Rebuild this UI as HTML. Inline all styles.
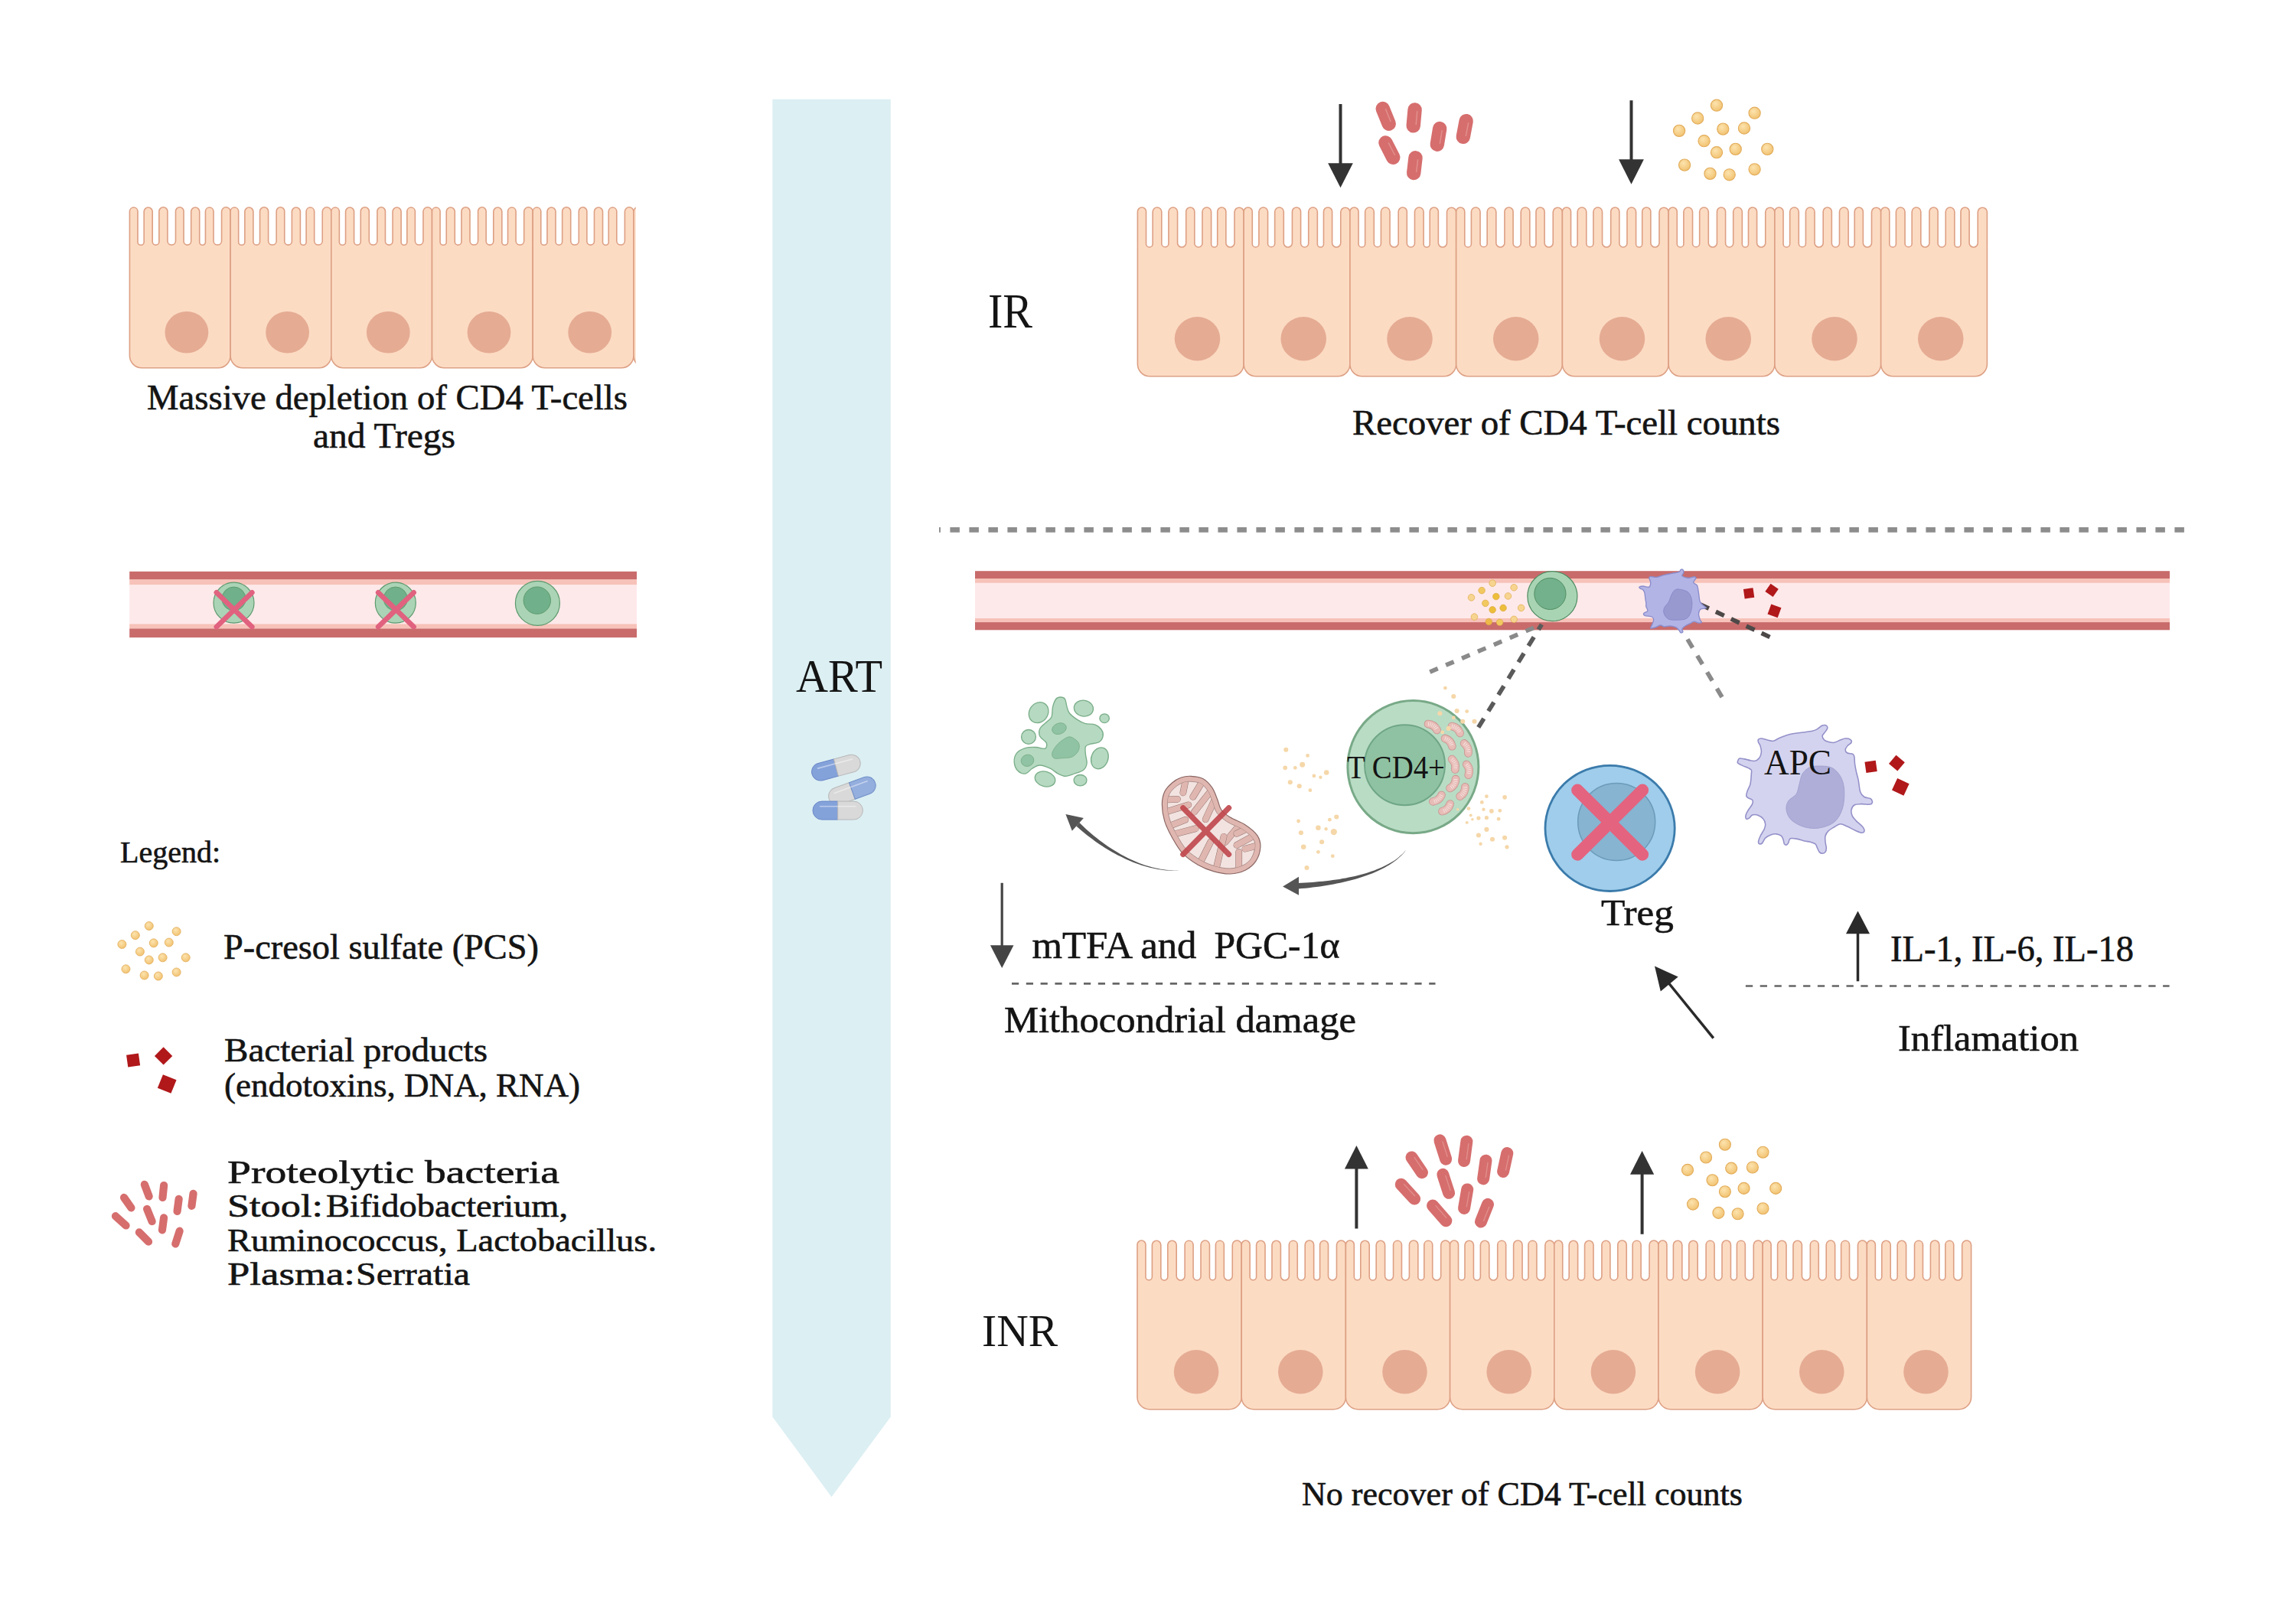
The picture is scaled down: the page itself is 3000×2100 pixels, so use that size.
<!DOCTYPE html>
<html><head><meta charset="utf-8"><title>ART diagram</title>
<style>html,body{margin:0;padding:0;background:#fff;width:3000px;height:2100px;overflow:hidden}svg{display:block}</style>
</head><body><svg width="3000" height="2100" viewBox="0 0 3000 2100"><rect width="3000" height="2100" fill="#FFFFFF"/><defs><radialGradient id="dotg" cx="0.4" cy="0.35" r="0.65"><stop offset="0" stop-color="#FCE3AE"/><stop offset="1" stop-color="#F2C372"/></radialGradient><clipPath id="clipL"><rect x="0" y="0" width="830.7" height="2100"/></clipPath></defs><polygon points="1009.3,129.8 1163.8,129.8 1163.8,1851.5 1086.5,1956.3 1009.3,1851.5" fill="#DCEFF3"/><g clip-path="url(#clipL)"><path d="M169.40,464.80L169.40,276.09A5.29,5.29 0 0 1 179.97,276.09L179.97,316.21A4.09,4.09 0 0 0 188.15,316.21L188.15,276.33A5.53,5.53 0 0 1 199.20,276.33L199.20,315.97A4.33,4.33 0 0 0 207.85,315.97L207.85,276.33A5.53,5.53 0 0 1 218.91,276.33L218.91,315.01A5.29,5.29 0 0 0 229.48,315.01L229.48,276.09A5.29,5.29 0 0 1 240.06,276.09L240.06,315.49A4.81,4.81 0 0 0 249.67,315.49L249.67,276.33A5.53,5.53 0 0 1 260.72,276.33L260.72,316.45A3.85,3.85 0 0 0 268.42,316.45L268.42,276.09A5.29,5.29 0 0 1 278.99,276.09L278.99,315.01A5.29,5.29 0 0 0 289.56,315.01L289.56,276.57A5.77,5.77 0 0 1 301.10,276.57L301.10,464.80A16,16 0 0 1 285.10,480.80L185.40,480.80A16,16 0 0 1 169.40,464.80Z" fill="#FCDBC3" stroke="#DDA084" stroke-width="1.6"/><ellipse cx="243.90" cy="434.30" rx="28.4" ry="27.3" fill="#E5AC93"/><path d="M301.10,464.80L301.10,276.09A5.29,5.29 0 0 1 311.67,276.09L311.67,316.21A4.09,4.09 0 0 0 319.85,316.21L319.85,276.33A5.53,5.53 0 0 1 330.90,276.33L330.90,315.97A4.33,4.33 0 0 0 339.55,315.97L339.55,276.33A5.53,5.53 0 0 1 350.61,276.33L350.61,315.01A5.29,5.29 0 0 0 361.18,315.01L361.18,276.09A5.29,5.29 0 0 1 371.76,276.09L371.76,315.49A4.81,4.81 0 0 0 381.37,315.49L381.37,276.33A5.53,5.53 0 0 1 392.42,276.33L392.42,316.45A3.85,3.85 0 0 0 400.12,316.45L400.12,276.09A5.29,5.29 0 0 1 410.69,276.09L410.69,315.01A5.29,5.29 0 0 0 421.26,315.01L421.26,276.57A5.77,5.77 0 0 1 432.80,276.57L432.80,464.80A16,16 0 0 1 416.80,480.80L317.10,480.80A16,16 0 0 1 301.10,464.80Z" fill="#FCDBC3" stroke="#DDA084" stroke-width="1.6"/><ellipse cx="375.60" cy="434.30" rx="28.4" ry="27.3" fill="#E5AC93"/><path d="M432.80,464.80L432.80,276.09A5.29,5.29 0 0 1 443.37,276.09L443.37,316.21A4.09,4.09 0 0 0 451.55,316.21L451.55,276.33A5.53,5.53 0 0 1 462.60,276.33L462.60,315.97A4.33,4.33 0 0 0 471.25,315.97L471.25,276.33A5.53,5.53 0 0 1 482.31,276.33L482.31,315.01A5.29,5.29 0 0 0 492.88,315.01L492.88,276.09A5.29,5.29 0 0 1 503.46,276.09L503.46,315.49A4.81,4.81 0 0 0 513.07,315.49L513.07,276.33A5.53,5.53 0 0 1 524.12,276.33L524.12,316.45A3.85,3.85 0 0 0 531.82,316.45L531.82,276.09A5.29,5.29 0 0 1 542.39,276.09L542.39,315.01A5.29,5.29 0 0 0 552.96,315.01L552.96,276.57A5.77,5.77 0 0 1 564.50,276.57L564.50,464.80A16,16 0 0 1 548.50,480.80L448.80,480.80A16,16 0 0 1 432.80,464.80Z" fill="#FCDBC3" stroke="#DDA084" stroke-width="1.6"/><ellipse cx="507.30" cy="434.30" rx="28.4" ry="27.3" fill="#E5AC93"/><path d="M564.50,464.80L564.50,276.09A5.29,5.29 0 0 1 575.07,276.09L575.07,316.21A4.09,4.09 0 0 0 583.25,316.21L583.25,276.33A5.53,5.53 0 0 1 594.30,276.33L594.30,315.97A4.33,4.33 0 0 0 602.95,315.97L602.95,276.33A5.53,5.53 0 0 1 614.01,276.33L614.01,315.01A5.29,5.29 0 0 0 624.58,315.01L624.58,276.09A5.29,5.29 0 0 1 635.16,276.09L635.16,315.49A4.81,4.81 0 0 0 644.77,315.49L644.77,276.33A5.53,5.53 0 0 1 655.82,276.33L655.82,316.45A3.85,3.85 0 0 0 663.52,316.45L663.52,276.09A5.29,5.29 0 0 1 674.09,276.09L674.09,315.01A5.29,5.29 0 0 0 684.66,315.01L684.66,276.57A5.77,5.77 0 0 1 696.20,276.57L696.20,464.80A16,16 0 0 1 680.20,480.80L580.50,480.80A16,16 0 0 1 564.50,464.80Z" fill="#FCDBC3" stroke="#DDA084" stroke-width="1.6"/><ellipse cx="639.00" cy="434.30" rx="28.4" ry="27.3" fill="#E5AC93"/><path d="M696.20,464.80L696.20,276.09A5.29,5.29 0 0 1 706.77,276.09L706.77,316.21A4.09,4.09 0 0 0 714.95,316.21L714.95,276.33A5.53,5.53 0 0 1 726.00,276.33L726.00,315.97A4.33,4.33 0 0 0 734.65,315.97L734.65,276.33A5.53,5.53 0 0 1 745.71,276.33L745.71,315.01A5.29,5.29 0 0 0 756.28,315.01L756.28,276.09A5.29,5.29 0 0 1 766.86,276.09L766.86,315.49A4.81,4.81 0 0 0 776.47,315.49L776.47,276.33A5.53,5.53 0 0 1 787.52,276.33L787.52,316.45A3.85,3.85 0 0 0 795.22,316.45L795.22,276.09A5.29,5.29 0 0 1 805.79,276.09L805.79,315.01A5.29,5.29 0 0 0 816.36,315.01L816.36,276.57A5.77,5.77 0 0 1 827.90,276.57L827.90,464.80A16,16 0 0 1 811.90,480.80L712.20,480.80A16,16 0 0 1 696.20,464.80Z" fill="#FCDBC3" stroke="#DDA084" stroke-width="1.6"/><ellipse cx="770.70" cy="434.30" rx="28.4" ry="27.3" fill="#E5AC93"/><path d="M827.90,464.80L827.90,276.09A5.29,5.29 0 0 1 838.47,276.09L838.47,316.21A4.09,4.09 0 0 0 846.65,316.21L846.65,276.33A5.53,5.53 0 0 1 857.70,276.33L857.70,315.97A4.33,4.33 0 0 0 866.35,315.97L866.35,276.33A5.53,5.53 0 0 1 877.41,276.33L877.41,315.01A5.29,5.29 0 0 0 887.98,315.01L887.98,276.09A5.29,5.29 0 0 1 898.56,276.09L898.56,315.49A4.81,4.81 0 0 0 908.17,315.49L908.17,276.33A5.53,5.53 0 0 1 919.22,276.33L919.22,316.45A3.85,3.85 0 0 0 926.92,316.45L926.92,276.09A5.29,5.29 0 0 1 937.49,276.09L937.49,315.01A5.29,5.29 0 0 0 948.06,315.01L948.06,276.57A5.77,5.77 0 0 1 959.60,276.57L959.60,464.80A16,16 0 0 1 943.60,480.80L843.90,480.80A16,16 0 0 1 827.90,464.80Z" fill="#FCDBC3" stroke="#DDA084" stroke-width="1.6"/><ellipse cx="902.40" cy="434.30" rx="28.4" ry="27.3" fill="#E5AC93"/></g><text x="192" y="534.9" font-size="47" font-family="Liberation Serif" fill="#141414" stroke="#141414" stroke-width="0.6" textLength="628" lengthAdjust="spacingAndGlyphs">Massive depletion of CD4 T-cells</text><text x="409" y="584.9" font-size="47" font-family="Liberation Serif" fill="#141414" stroke="#141414" stroke-width="0.6" textLength="186" lengthAdjust="spacingAndGlyphs">and Tregs</text><g><rect x="169.2" y="746.80" width="662.8" height="10.70" fill="#C96B6B"/><rect x="169.2" y="757.20" width="662.8" height="7.30" fill="#F7C2B9"/><rect x="169.2" y="764.20" width="662.8" height="51.50" fill="#FEE9EA"/><rect x="169.2" y="815.40" width="662.8" height="6.40" fill="#F7C2B9"/><rect x="169.2" y="821.50" width="662.8" height="11.60" fill="#C96B6B"/></g><circle cx="305.5" cy="787.7" r="26.5" fill="#AAD4B5" stroke="#5D9A6E" stroke-width="1.2"/><circle cx="305.5" cy="782.5" r="15.5" fill="#70B08A" stroke="#5D9A6E" stroke-width="0.96"/><circle cx="516.8" cy="787.7" r="26.5" fill="#AAD4B5" stroke="#5D9A6E" stroke-width="1.2"/><circle cx="516.8" cy="782.5" r="15.5" fill="#70B08A" stroke="#5D9A6E" stroke-width="0.96"/><circle cx="702.4" cy="788.3" r="29" fill="#AAD4B5" stroke="#5D9A6E" stroke-width="1.2"/><circle cx="701.8" cy="784.6" r="17.7" fill="#70B08A" stroke="#5D9A6E" stroke-width="0.96"/><g stroke="#E0627F" stroke-width="6.7" stroke-linecap="round" opacity="1"><line x1="282.9" y1="774.3" x2="329.3" y2="819.1"/><line x1="329.3" y1="774.3" x2="282.9" y2="819.1"/></g><g stroke="#E0627F" stroke-width="6.7" stroke-linecap="round" opacity="1"><line x1="494.2" y1="774.3" x2="540.6" y2="819.1"/><line x1="540.6" y1="774.3" x2="494.2" y2="819.1"/></g><text x="157" y="1127.4" font-size="39.7" font-family="Liberation Serif" fill="#141414" stroke="#141414" stroke-width="0.6" textLength="131" lengthAdjust="spacingAndGlyphs">Legend:</text><g><circle cx="194.75" cy="1210.00" r="5.5" fill="url(#dotg)" stroke="#E2AC5A" stroke-width="0.82"/><circle cx="230.62" cy="1217.23" r="5.5" fill="url(#dotg)" stroke="#E2AC5A" stroke-width="0.82"/><circle cx="176.82" cy="1222.15" r="5.5" fill="url(#dotg)" stroke="#E2AC5A" stroke-width="0.82"/><circle cx="159.40" cy="1234.00" r="5.5" fill="url(#dotg)" stroke="#E2AC5A" stroke-width="0.82"/><circle cx="200.76" cy="1232.34" r="5.5" fill="url(#dotg)" stroke="#E2AC5A" stroke-width="0.82"/><circle cx="220.78" cy="1231.55" r="5.5" fill="url(#dotg)" stroke="#E2AC5A" stroke-width="0.82"/><circle cx="182.90" cy="1243.62" r="5.5" fill="url(#dotg)" stroke="#E2AC5A" stroke-width="0.82"/><circle cx="194.75" cy="1254.46" r="5.5" fill="url(#dotg)" stroke="#E2AC5A" stroke-width="0.82"/><circle cx="212.61" cy="1251.36" r="5.5" fill="url(#dotg)" stroke="#E2AC5A" stroke-width="0.82"/><circle cx="242.69" cy="1251.36" r="5.5" fill="url(#dotg)" stroke="#E2AC5A" stroke-width="0.82"/><circle cx="164.46" cy="1266.32" r="5.5" fill="url(#dotg)" stroke="#E2AC5A" stroke-width="0.82"/><circle cx="188.61" cy="1274.49" r="5.5" fill="url(#dotg)" stroke="#E2AC5A" stroke-width="0.82"/><circle cx="206.83" cy="1275.50" r="5.5" fill="url(#dotg)" stroke="#E2AC5A" stroke-width="0.82"/><circle cx="230.62" cy="1270.44" r="5.5" fill="url(#dotg)" stroke="#E2AC5A" stroke-width="0.82"/></g><text x="292" y="1252.5" font-size="46.4" font-family="Liberation Serif" fill="#141414" stroke="#141414" stroke-width="0.6" textLength="412" lengthAdjust="spacingAndGlyphs">P-cresol sulfate (PCS)</text><rect x="166.10" y="1377.50" width="16" height="16" fill="#B0181A" transform="rotate(-8 174.10 1385.50)"/><rect x="205.35" y="1371.65" width="16.5" height="16.5" fill="#B0181A" transform="rotate(45 213.60 1379.90)"/><rect x="208.70" y="1407.00" width="19" height="19" fill="#B0181A" transform="rotate(22 218.20 1416.50)"/><text x="293" y="1387" font-size="45" font-family="Liberation Serif" fill="#141414" stroke="#141414" stroke-width="0.6" textLength="344" lengthAdjust="spacingAndGlyphs">Bacterial products</text><text x="293" y="1432.8" font-size="45" font-family="Liberation Serif" fill="#141414" stroke="#141414" stroke-width="0.6" textLength="465" lengthAdjust="spacingAndGlyphs">(endotoxins, DNA, RNA)</text><g><line x1="162.04" y1="1564.97" x2="171.46" y2="1578.33" stroke="#D66E6E" stroke-width="10.2" stroke-linecap="round"/><line x1="150.94" y1="1589.21" x2="164.56" y2="1601.49" stroke="#D66E6E" stroke-width="10.2" stroke-linecap="round"/><line x1="188.83" y1="1547.89" x2="194.67" y2="1563.41" stroke="#D66E6E" stroke-width="10.2" stroke-linecap="round"/><line x1="214.12" y1="1548.99" x2="212.48" y2="1565.01" stroke="#D66E6E" stroke-width="10.2" stroke-linecap="round"/><line x1="192.07" y1="1579.87" x2="198.63" y2="1596.13" stroke="#D66E6E" stroke-width="10.2" stroke-linecap="round"/><line x1="233.66" y1="1566.88" x2="231.54" y2="1582.92" stroke="#D66E6E" stroke-width="10.2" stroke-linecap="round"/><line x1="252.56" y1="1559.78" x2="250.44" y2="1575.82" stroke="#D66E6E" stroke-width="10.2" stroke-linecap="round"/><line x1="214.06" y1="1591.38" x2="211.94" y2="1607.42" stroke="#D66E6E" stroke-width="10.2" stroke-linecap="round"/><line x1="181.87" y1="1610.47" x2="194.03" y2="1622.63" stroke="#D66E6E" stroke-width="10.2" stroke-linecap="round"/><line x1="234.65" y1="1608.71" x2="229.25" y2="1625.49" stroke="#D66E6E" stroke-width="10.2" stroke-linecap="round"/></g><text x="297" y="1546.2" font-size="41.8" font-family="Liberation Serif" fill="#141414" stroke="#141414" stroke-width="0.6" textLength="434" lengthAdjust="spacingAndGlyphs">Proteolytic bacteria</text><text x="297" y="1590.3" font-size="41.8" font-family="Liberation Serif" fill="#141414" stroke="#141414" stroke-width="0.6" textLength="125" lengthAdjust="spacingAndGlyphs">Stool:</text><text x="426" y="1590.3" font-size="41.8" font-family="Liberation Serif" fill="#141414" stroke="#141414" stroke-width="0.6" textLength="316" lengthAdjust="spacingAndGlyphs">Bifidobacterium,</text><text x="297" y="1634.7" font-size="41.8" font-family="Liberation Serif" fill="#141414" stroke="#141414" stroke-width="0.6" textLength="561" lengthAdjust="spacingAndGlyphs">Ruminococcus, Lactobacillus.</text><text x="297" y="1678.8" font-size="41.8" font-family="Liberation Serif" fill="#141414" stroke="#141414" stroke-width="0.6" textLength="167" lengthAdjust="spacingAndGlyphs">Plasma:</text><text x="465" y="1678.8" font-size="41.8" font-family="Liberation Serif" fill="#141414" stroke="#141414" stroke-width="0.6" textLength="149" lengthAdjust="spacingAndGlyphs">Serratia</text><text x="1040" y="903.8" font-size="60.6" font-family="Liberation Serif" fill="#141414" textLength="113" lengthAdjust="spacingAndGlyphs">ART</text><g transform="translate(1113.4,1033.5) rotate(-20)"><path d="M0,-11.5 L-20.5,-11.5 A11.5,11.5 0 0 0 -20.5,11.5 L0,11.5 Z" fill="#D9D9D9" stroke="#B8B8B8" stroke-width="1"/><path d="M0,-11.5 L20.5,-11.5 A11.5,11.5 0 0 1 20.5,11.5 L0,11.5 Z" fill="#94AEDE" stroke="#7090C8" stroke-width="1"/><line x1="-22.799999999999997" y1="-5.175" x2="22.799999999999997" y2="-5.175" stroke="#FFFFFF" stroke-opacity="0.45" stroke-width="1.6" stroke-linecap="round"/></g><g transform="translate(1092.4,1003.1) rotate(-15)"><path d="M0,-11.5 L-21.0,-11.5 A11.5,11.5 0 0 0 -21.0,11.5 L0,11.5 Z" fill="#84A2DA" stroke="#6A88C8" stroke-width="1"/><path d="M0,-11.5 L21.0,-11.5 A11.5,11.5 0 0 1 21.0,11.5 L0,11.5 Z" fill="#D9D9D9" stroke="#B8B8B8" stroke-width="1"/><line x1="-23.299999999999997" y1="-5.175" x2="23.299999999999997" y2="-5.175" stroke="#FFFFFF" stroke-opacity="0.45" stroke-width="1.6" stroke-linecap="round"/></g><g transform="translate(1094.7,1059.1) rotate(0)"><path d="M0,-12.0 L-20.700000000000003,-12.0 A12.0,12.0 0 0 0 -20.700000000000003,12.0 L0,12.0 Z" fill="#84A2DA" stroke="#6A88C8" stroke-width="1"/><path d="M0,-12.0 L20.700000000000003,-12.0 A12.0,12.0 0 0 1 20.700000000000003,12.0 L0,12.0 Z" fill="#D9D9D9" stroke="#B8B8B8" stroke-width="1"/><line x1="-23.1" y1="-5.4" x2="23.1" y2="-5.4" stroke="#FFFFFF" stroke-opacity="0.45" stroke-width="1.6" stroke-linecap="round"/></g><line x1="1751.5" y1="136" x2="1751.5" y2="214.3" stroke="#333333" stroke-width="4"/><polygon points="1735.2,213.3 1767.8,213.3 1751.5,245.3" fill="#333333"/><line x1="2131.5" y1="131.2" x2="2131.5" y2="209.20000000000002" stroke="#333333" stroke-width="4"/><polygon points="2115.1,208.20000000000002 2147.9,208.20000000000002 2131.5,240.8" fill="#333333"/><g><line x1="1806.70" y1="142.00" x2="1814.70" y2="161.80" stroke="#D66E6E" stroke-width="18.4" stroke-linecap="round"/><line x1="1810.57" y1="142.74" x2="1816.97" y2="158.58" stroke="#E59A95" stroke-width="1.47" stroke-linecap="round" opacity="0.8"/><line x1="1848.60" y1="143.40" x2="1846.70" y2="164.40" stroke="#D66E6E" stroke-width="18.4" stroke-linecap="round"/><line x1="1851.71" y1="145.80" x2="1850.19" y2="162.60" stroke="#E59A95" stroke-width="1.47" stroke-linecap="round" opacity="0.8"/><line x1="1881.20" y1="168.00" x2="1877.80" y2="188.70" stroke="#D66E6E" stroke-width="18.4" stroke-linecap="round"/><line x1="1884.13" y1="170.61" x2="1881.41" y2="187.17" stroke="#E59A95" stroke-width="1.47" stroke-linecap="round" opacity="0.8"/><line x1="1915.70" y1="158.10" x2="1911.80" y2="178.80" stroke="#D66E6E" stroke-width="18.4" stroke-linecap="round"/><line x1="1918.56" y1="160.78" x2="1915.44" y2="177.34" stroke="#E59A95" stroke-width="1.47" stroke-linecap="round" opacity="0.8"/><line x1="1810.40" y1="186.40" x2="1820.30" y2="205.70" stroke="#D66E6E" stroke-width="18.4" stroke-linecap="round"/><line x1="1814.34" y1="186.82" x2="1822.26" y2="202.26" stroke="#E59A95" stroke-width="1.47" stroke-linecap="round" opacity="0.8"/><line x1="1849.50" y1="206.30" x2="1847.20" y2="226.10" stroke="#D66E6E" stroke-width="18.4" stroke-linecap="round"/><line x1="1852.56" y1="208.66" x2="1850.72" y2="224.50" stroke="#E59A95" stroke-width="1.47" stroke-linecap="round" opacity="0.8"/></g><g><circle cx="2243.00" cy="137.70" r="7.6" fill="url(#dotg)" stroke="#E2AC5A" stroke-width="1.14"/><circle cx="2292.60" cy="147.70" r="7.6" fill="url(#dotg)" stroke="#E2AC5A" stroke-width="1.14"/><circle cx="2218.20" cy="154.50" r="7.6" fill="url(#dotg)" stroke="#E2AC5A" stroke-width="1.14"/><circle cx="2194.10" cy="170.90" r="7.6" fill="url(#dotg)" stroke="#E2AC5A" stroke-width="1.14"/><circle cx="2251.30" cy="168.60" r="7.6" fill="url(#dotg)" stroke="#E2AC5A" stroke-width="1.14"/><circle cx="2279.00" cy="167.50" r="7.6" fill="url(#dotg)" stroke="#E2AC5A" stroke-width="1.14"/><circle cx="2226.60" cy="184.20" r="7.6" fill="url(#dotg)" stroke="#E2AC5A" stroke-width="1.14"/><circle cx="2243.00" cy="199.20" r="7.6" fill="url(#dotg)" stroke="#E2AC5A" stroke-width="1.14"/><circle cx="2267.70" cy="194.90" r="7.6" fill="url(#dotg)" stroke="#E2AC5A" stroke-width="1.14"/><circle cx="2309.30" cy="194.90" r="7.6" fill="url(#dotg)" stroke="#E2AC5A" stroke-width="1.14"/><circle cx="2201.10" cy="215.60" r="7.6" fill="url(#dotg)" stroke="#E2AC5A" stroke-width="1.14"/><circle cx="2234.50" cy="226.90" r="7.6" fill="url(#dotg)" stroke="#E2AC5A" stroke-width="1.14"/><circle cx="2259.70" cy="228.30" r="7.6" fill="url(#dotg)" stroke="#E2AC5A" stroke-width="1.14"/><circle cx="2292.60" cy="221.30" r="7.6" fill="url(#dotg)" stroke="#E2AC5A" stroke-width="1.14"/></g><text x="1291" y="427.7" font-size="63.8" font-family="Liberation Serif" fill="#141414" textLength="58" lengthAdjust="spacingAndGlyphs">IR</text><g><path d="M1486.40,475.80L1486.40,276.57A5.57,5.57 0 0 1 1497.54,276.57L1497.54,318.70A4.30,4.30 0 0 0 1506.15,318.70L1506.15,276.82A5.82,5.82 0 0 1 1517.80,276.82L1517.80,318.44A4.56,4.56 0 0 0 1526.91,318.44L1526.91,276.82A5.82,5.82 0 0 1 1538.56,276.82L1538.56,317.43A5.57,5.57 0 0 0 1549.70,317.43L1549.70,276.57A5.57,5.57 0 0 1 1560.84,276.57L1560.84,317.94A5.06,5.06 0 0 0 1570.97,317.94L1570.97,276.82A5.82,5.82 0 0 1 1582.61,276.82L1582.61,318.95A4.05,4.05 0 0 0 1590.72,318.95L1590.72,276.57A5.57,5.57 0 0 1 1601.86,276.57L1601.86,317.43A5.57,5.57 0 0 0 1613.00,317.43L1613.00,277.08A6.08,6.08 0 0 1 1625.15,277.08L1625.15,475.80A16,16 0 0 1 1609.15,491.80L1502.40,491.80A16,16 0 0 1 1486.40,475.80Z" fill="#FCDBC3" stroke="#DDA084" stroke-width="1.6"/><ellipse cx="1564.50" cy="442.80" rx="29.8" ry="28.7" fill="#E5AC93"/><path d="M1625.15,475.80L1625.15,276.57A5.57,5.57 0 0 1 1636.29,276.57L1636.29,318.70A4.30,4.30 0 0 0 1644.90,318.70L1644.90,276.82A5.82,5.82 0 0 1 1656.55,276.82L1656.55,318.44A4.56,4.56 0 0 0 1665.66,318.44L1665.66,276.82A5.82,5.82 0 0 1 1677.31,276.82L1677.31,317.43A5.57,5.57 0 0 0 1688.45,317.43L1688.45,276.57A5.57,5.57 0 0 1 1699.59,276.57L1699.59,317.94A5.06,5.06 0 0 0 1709.72,317.94L1709.72,276.82A5.82,5.82 0 0 1 1721.36,276.82L1721.36,318.95A4.05,4.05 0 0 0 1729.47,318.95L1729.47,276.57A5.57,5.57 0 0 1 1740.61,276.57L1740.61,317.43A5.57,5.57 0 0 0 1751.75,317.43L1751.75,277.08A6.08,6.08 0 0 1 1763.90,277.08L1763.90,475.80A16,16 0 0 1 1747.90,491.80L1641.15,491.80A16,16 0 0 1 1625.15,475.80Z" fill="#FCDBC3" stroke="#DDA084" stroke-width="1.6"/><ellipse cx="1703.25" cy="442.80" rx="29.8" ry="28.7" fill="#E5AC93"/><path d="M1763.90,475.80L1763.90,276.57A5.57,5.57 0 0 1 1775.04,276.57L1775.04,318.70A4.30,4.30 0 0 0 1783.65,318.70L1783.65,276.82A5.82,5.82 0 0 1 1795.30,276.82L1795.30,318.44A4.56,4.56 0 0 0 1804.41,318.44L1804.41,276.82A5.82,5.82 0 0 1 1816.06,276.82L1816.06,317.43A5.57,5.57 0 0 0 1827.20,317.43L1827.20,276.57A5.57,5.57 0 0 1 1838.34,276.57L1838.34,317.94A5.06,5.06 0 0 0 1848.47,317.94L1848.47,276.82A5.82,5.82 0 0 1 1860.11,276.82L1860.11,318.95A4.05,4.05 0 0 0 1868.22,318.95L1868.22,276.57A5.57,5.57 0 0 1 1879.36,276.57L1879.36,317.43A5.57,5.57 0 0 0 1890.50,317.43L1890.50,277.08A6.08,6.08 0 0 1 1902.65,277.08L1902.65,475.80A16,16 0 0 1 1886.65,491.80L1779.90,491.80A16,16 0 0 1 1763.90,475.80Z" fill="#FCDBC3" stroke="#DDA084" stroke-width="1.6"/><ellipse cx="1842.00" cy="442.80" rx="29.8" ry="28.7" fill="#E5AC93"/><path d="M1902.65,475.80L1902.65,276.57A5.57,5.57 0 0 1 1913.79,276.57L1913.79,318.70A4.30,4.30 0 0 0 1922.40,318.70L1922.40,276.82A5.82,5.82 0 0 1 1934.05,276.82L1934.05,318.44A4.56,4.56 0 0 0 1943.16,318.44L1943.16,276.82A5.82,5.82 0 0 1 1954.81,276.82L1954.81,317.43A5.57,5.57 0 0 0 1965.95,317.43L1965.95,276.57A5.57,5.57 0 0 1 1977.09,276.57L1977.09,317.94A5.06,5.06 0 0 0 1987.22,317.94L1987.22,276.82A5.82,5.82 0 0 1 1998.86,276.82L1998.86,318.95A4.05,4.05 0 0 0 2006.97,318.95L2006.97,276.57A5.57,5.57 0 0 1 2018.11,276.57L2018.11,317.43A5.57,5.57 0 0 0 2029.25,317.43L2029.25,277.08A6.08,6.08 0 0 1 2041.40,277.08L2041.40,475.80A16,16 0 0 1 2025.40,491.80L1918.65,491.80A16,16 0 0 1 1902.65,475.80Z" fill="#FCDBC3" stroke="#DDA084" stroke-width="1.6"/><ellipse cx="1980.75" cy="442.80" rx="29.8" ry="28.7" fill="#E5AC93"/><path d="M2041.40,475.80L2041.40,276.57A5.57,5.57 0 0 1 2052.54,276.57L2052.54,318.70A4.30,4.30 0 0 0 2061.15,318.70L2061.15,276.82A5.82,5.82 0 0 1 2072.80,276.82L2072.80,318.44A4.56,4.56 0 0 0 2081.91,318.44L2081.91,276.82A5.82,5.82 0 0 1 2093.56,276.82L2093.56,317.43A5.57,5.57 0 0 0 2104.70,317.43L2104.70,276.57A5.57,5.57 0 0 1 2115.84,276.57L2115.84,317.94A5.06,5.06 0 0 0 2125.97,317.94L2125.97,276.82A5.82,5.82 0 0 1 2137.61,276.82L2137.61,318.95A4.05,4.05 0 0 0 2145.72,318.95L2145.72,276.57A5.57,5.57 0 0 1 2156.86,276.57L2156.86,317.43A5.57,5.57 0 0 0 2168.00,317.43L2168.00,277.08A6.08,6.08 0 0 1 2180.15,277.08L2180.15,475.80A16,16 0 0 1 2164.15,491.80L2057.40,491.80A16,16 0 0 1 2041.40,475.80Z" fill="#FCDBC3" stroke="#DDA084" stroke-width="1.6"/><ellipse cx="2119.50" cy="442.80" rx="29.8" ry="28.7" fill="#E5AC93"/><path d="M2180.15,475.80L2180.15,276.57A5.57,5.57 0 0 1 2191.29,276.57L2191.29,318.70A4.30,4.30 0 0 0 2199.90,318.70L2199.90,276.82A5.82,5.82 0 0 1 2211.55,276.82L2211.55,318.44A4.56,4.56 0 0 0 2220.66,318.44L2220.66,276.82A5.82,5.82 0 0 1 2232.31,276.82L2232.31,317.43A5.57,5.57 0 0 0 2243.45,317.43L2243.45,276.57A5.57,5.57 0 0 1 2254.59,276.57L2254.59,317.94A5.06,5.06 0 0 0 2264.72,317.94L2264.72,276.82A5.82,5.82 0 0 1 2276.36,276.82L2276.36,318.95A4.05,4.05 0 0 0 2284.47,318.95L2284.47,276.57A5.57,5.57 0 0 1 2295.61,276.57L2295.61,317.43A5.57,5.57 0 0 0 2306.75,317.43L2306.75,277.08A6.08,6.08 0 0 1 2318.90,277.08L2318.90,475.80A16,16 0 0 1 2302.90,491.80L2196.15,491.80A16,16 0 0 1 2180.15,475.80Z" fill="#FCDBC3" stroke="#DDA084" stroke-width="1.6"/><ellipse cx="2258.25" cy="442.80" rx="29.8" ry="28.7" fill="#E5AC93"/><path d="M2318.90,475.80L2318.90,276.57A5.57,5.57 0 0 1 2330.04,276.57L2330.04,318.70A4.30,4.30 0 0 0 2338.65,318.70L2338.65,276.82A5.82,5.82 0 0 1 2350.30,276.82L2350.30,318.44A4.56,4.56 0 0 0 2359.41,318.44L2359.41,276.82A5.82,5.82 0 0 1 2371.06,276.82L2371.06,317.43A5.57,5.57 0 0 0 2382.20,317.43L2382.20,276.57A5.57,5.57 0 0 1 2393.34,276.57L2393.34,317.94A5.06,5.06 0 0 0 2403.47,317.94L2403.47,276.82A5.82,5.82 0 0 1 2415.11,276.82L2415.11,318.95A4.05,4.05 0 0 0 2423.22,318.95L2423.22,276.57A5.57,5.57 0 0 1 2434.36,276.57L2434.36,317.43A5.57,5.57 0 0 0 2445.50,317.43L2445.50,277.08A6.08,6.08 0 0 1 2457.65,277.08L2457.65,475.80A16,16 0 0 1 2441.65,491.80L2334.90,491.80A16,16 0 0 1 2318.90,475.80Z" fill="#FCDBC3" stroke="#DDA084" stroke-width="1.6"/><ellipse cx="2397.00" cy="442.80" rx="29.8" ry="28.7" fill="#E5AC93"/><path d="M2457.65,475.80L2457.65,276.57A5.57,5.57 0 0 1 2468.79,276.57L2468.79,318.70A4.30,4.30 0 0 0 2477.40,318.70L2477.40,276.82A5.82,5.82 0 0 1 2489.05,276.82L2489.05,318.44A4.56,4.56 0 0 0 2498.16,318.44L2498.16,276.82A5.82,5.82 0 0 1 2509.81,276.82L2509.81,317.43A5.57,5.57 0 0 0 2520.95,317.43L2520.95,276.57A5.57,5.57 0 0 1 2532.09,276.57L2532.09,317.94A5.06,5.06 0 0 0 2542.22,317.94L2542.22,276.82A5.82,5.82 0 0 1 2553.86,276.82L2553.86,318.95A4.05,4.05 0 0 0 2561.97,318.95L2561.97,276.57A5.57,5.57 0 0 1 2573.11,276.57L2573.11,317.43A5.57,5.57 0 0 0 2584.25,317.43L2584.25,277.08A6.08,6.08 0 0 1 2596.40,277.08L2596.40,475.80A16,16 0 0 1 2580.40,491.80L2473.65,491.80A16,16 0 0 1 2457.65,475.80Z" fill="#FCDBC3" stroke="#DDA084" stroke-width="1.6"/><ellipse cx="2535.75" cy="442.80" rx="29.8" ry="28.7" fill="#E5AC93"/></g><text x="1767" y="568.3" font-size="45.8" font-family="Liberation Serif" fill="#141414" stroke="#141414" stroke-width="0.6" textLength="559" lengthAdjust="spacingAndGlyphs">Recover of CD4 T-cell counts</text><line x1="1227" y1="692.3" x2="2854.1" y2="692.3" stroke="#8D8D8D" stroke-width="6.7" stroke-dasharray="12.5 12.5" stroke-dashoffset="10.6"/><g><rect x="1274" y="746.20" width="1561" height="10.10" fill="#C96B6B"/><rect x="1274" y="756.00" width="1561" height="6.00" fill="#F7C2B9"/><rect x="1274" y="761.70" width="1561" height="46.60" fill="#FEE9EA"/><rect x="1274" y="808.00" width="1561" height="5.40" fill="#F7C2B9"/><rect x="1274" y="813.10" width="1561" height="10.20" fill="#C96B6B"/></g><g><circle cx="1950.13" cy="762.10" r="4.3" fill="#F7D590" stroke="#D9A640" stroke-width="0.64"/><circle cx="1978.15" cy="767.75" r="4.3" fill="#F7D590" stroke="#D9A640" stroke-width="0.64"/><circle cx="1936.12" cy="771.59" r="4.3" fill="#F2C960" stroke="#D9A640" stroke-width="0.64"/><circle cx="1922.50" cy="780.86" r="4.3" fill="#F7D590" stroke="#D9A640" stroke-width="0.64"/><circle cx="1954.82" cy="779.56" r="4.3" fill="#EDBE3A" stroke="#D9A640" stroke-width="0.64"/><circle cx="1970.47" cy="778.94" r="4.3" fill="#F7D590" stroke="#D9A640" stroke-width="0.64"/><circle cx="1940.86" cy="788.37" r="4.3" fill="#F2C960" stroke="#D9A640" stroke-width="0.64"/><circle cx="1950.13" cy="796.85" r="4.3" fill="#EDBE3A" stroke="#D9A640" stroke-width="0.64"/><circle cx="1964.08" cy="794.42" r="4.3" fill="#EDBE3A" stroke="#D9A640" stroke-width="0.64"/><circle cx="1987.59" cy="794.42" r="4.3" fill="#F7D590" stroke="#D9A640" stroke-width="0.64"/><circle cx="1926.45" cy="806.11" r="4.3" fill="#F7D590" stroke="#D9A640" stroke-width="0.64"/><circle cx="1945.33" cy="812.50" r="4.3" fill="#EDB948" stroke="#D9A640" stroke-width="0.64"/><circle cx="1959.56" cy="813.29" r="4.3" fill="#F2C960" stroke="#D9A640" stroke-width="0.64"/><circle cx="1978.15" cy="809.33" r="4.3" fill="#F7D590" stroke="#D9A640" stroke-width="0.64"/></g><line x1="1868.3" y1="878.1" x2="2014.4" y2="815.9" stroke="#8A8A8A" stroke-width="5.7" stroke-dasharray="11.3 11.4"/><line x1="1931.7" y1="950.6" x2="2014.4" y2="815.9" stroke="#5A5A5A" stroke-width="5.7" stroke-dasharray="13.6 11.4"/><line x1="2250" y1="911" x2="2198.8" y2="825.1" stroke="#8A8A8A" stroke-width="5.7" stroke-dasharray="13 12"/><line x1="2222" y1="790" x2="2315.6" y2="834" stroke="#4D4848" stroke-width="5.7" stroke-dasharray="12 10"/><circle cx="2028.4" cy="779.2" r="32.5" fill="#A9D4B4" stroke="#4E8C60" stroke-width="1.2"/><circle cx="2025.4" cy="775.9" r="20.6" fill="#72B18B" stroke="#4E8C60" stroke-width="0.96"/><g transform="translate(1900,720) scale(0.19600)"><path d="M1235.0,240.0C1238.3,237.5 1249.2,235.0 1260.0,235.0C1270.8,235.0 1291.7,244.2 1300.0,240.0C1308.3,235.8 1310.0,220.0 1310.0,210.0C1310.0,200.0 1300.0,186.7 1300.0,180.0C1300.0,173.3 1301.7,170.8 1310.0,170.0C1318.3,169.2 1335.0,176.7 1350.0,175.0C1365.0,173.3 1383.3,164.2 1400.0,160.0C1416.7,155.8 1433.3,153.3 1450.0,150.0C1466.7,146.7 1490.0,144.2 1500.0,140.0C1510.0,135.8 1505.8,127.5 1510.0,125.0C1514.2,122.5 1521.7,121.7 1525.0,125.0C1528.3,128.3 1530.8,138.3 1530.0,145.0C1529.2,151.7 1515.0,159.2 1520.0,165.0C1525.0,170.8 1546.7,178.8 1560.0,180.0C1573.3,181.2 1591.3,171.7 1600.0,172.0C1608.7,172.3 1612.8,175.7 1612.0,182.0C1611.2,188.3 1593.7,202.0 1595.0,210.0C1596.3,218.0 1614.2,218.3 1620.0,230.0C1625.8,241.7 1626.7,261.7 1630.0,280.0C1633.3,298.3 1633.3,325.0 1640.0,340.0C1646.7,355.0 1663.3,363.3 1670.0,370.0C1676.7,376.7 1681.7,377.5 1680.0,380.0C1678.3,382.5 1666.7,383.3 1660.0,385.0C1653.3,386.7 1645.0,384.2 1640.0,390.0C1635.0,395.8 1630.0,408.3 1630.0,420.0C1630.0,431.7 1636.7,450.8 1640.0,460.0C1643.3,469.2 1651.7,471.7 1650.0,475.0C1648.3,478.3 1638.3,480.8 1630.0,480.0C1621.7,479.2 1608.3,470.0 1600.0,470.0C1591.7,470.0 1590.0,475.0 1580.0,480.0C1570.0,485.0 1550.0,493.3 1540.0,500.0C1530.0,506.7 1522.5,513.3 1520.0,520.0C1517.5,526.7 1526.7,535.8 1525.0,540.0C1523.3,544.2 1514.2,546.7 1510.0,545.0C1505.8,543.3 1505.0,535.8 1500.0,530.0C1495.0,524.2 1490.0,515.0 1480.0,510.0C1470.0,505.0 1453.3,500.8 1440.0,500.0C1426.7,499.2 1410.8,505.8 1400.0,505.0C1389.2,504.2 1385.0,494.2 1375.0,495.0C1365.0,495.8 1350.8,506.7 1340.0,510.0C1329.2,513.3 1313.3,518.3 1310.0,515.0C1306.7,511.7 1316.7,499.2 1320.0,490.0C1323.3,480.8 1330.0,468.3 1330.0,460.0C1330.0,451.7 1330.0,445.0 1320.0,440.0C1310.0,435.0 1279.2,434.2 1270.0,430.0C1260.8,425.8 1261.7,420.0 1265.0,415.0C1268.3,410.0 1287.5,407.5 1290.0,400.0C1292.5,392.5 1281.7,378.3 1280.0,370.0C1278.3,361.7 1280.8,358.3 1280.0,350.0C1279.2,341.7 1276.7,331.7 1275.0,320.0C1273.3,308.3 1272.5,290.0 1270.0,280.0C1267.5,270.0 1265.0,265.0 1260.0,260.0C1255.0,255.0 1244.2,253.3 1240.0,250.0C1235.8,246.7 1231.7,242.5 1235.0,240.0Z" fill="#B3B4E6" stroke="#8A8DCC" stroke-width="7"/><path d="M1500.0,255.0C1515.0,257.2 1545.8,262.5 1560.0,275.0C1574.2,287.5 1581.7,309.2 1585.0,330.0C1588.3,350.8 1585.8,380.0 1580.0,400.0C1574.2,420.0 1565.0,440.0 1550.0,450.0C1535.0,460.0 1510.0,459.2 1490.0,460.0C1470.0,460.8 1445.0,461.7 1430.0,455.0C1415.0,448.3 1405.0,432.5 1400.0,420.0C1395.0,407.5 1395.0,393.3 1400.0,380.0C1405.0,366.7 1421.7,355.0 1430.0,340.0C1438.3,325.0 1443.3,303.0 1450.0,290.0C1456.7,277.0 1461.7,267.8 1470.0,262.0C1478.3,256.2 1485.0,252.8 1500.0,255.0Z" fill="#9899CF" stroke="#8385C3" stroke-width="4"/></g><rect x="2278.75" y="768.95" width="12.7" height="12.7" fill="#B0181A" transform="rotate(-8 2285.10 775.30)"/><rect x="2308.85" y="765.15" width="12.5" height="12.5" fill="#B0181A" transform="rotate(35 2315.10 771.40)"/><rect x="2311.50" y="791.40" width="14" height="14" fill="#B0181A" transform="rotate(20 2318.50 798.40)"/><g transform="translate(1300,890) scale(0.16798)"><path d="M510.0,125.0C521.7,125.0 536.7,127.5 545.0,140.0C553.3,152.5 554.2,181.7 560.0,200.0C565.8,218.3 566.7,233.3 580.0,250.0C593.3,266.7 620.0,286.7 640.0,300.0C660.0,313.3 676.7,323.3 700.0,330.0C723.3,336.7 758.3,331.7 780.0,340.0C801.7,348.3 820.0,365.0 830.0,380.0C840.0,395.0 843.3,414.2 840.0,430.0C836.7,445.8 826.7,465.0 810.0,475.0C793.3,485.0 757.5,484.2 740.0,490.0C722.5,495.8 710.8,496.7 705.0,510.0C699.2,523.3 703.3,548.3 705.0,570.0C706.7,591.7 717.5,620.0 715.0,640.0C712.5,660.0 705.8,676.7 690.0,690.0C674.2,703.3 643.3,711.7 620.0,720.0C596.7,728.3 571.7,740.0 550.0,740.0C528.3,740.0 510.0,730.0 490.0,720.0C470.0,710.0 453.3,690.8 430.0,680.0C406.7,669.2 373.3,655.0 350.0,655.0C326.7,655.0 308.3,669.2 290.0,680.0C271.7,690.8 258.3,716.7 240.0,720.0C221.7,723.3 195.0,715.0 180.0,700.0C165.0,685.0 151.7,653.3 150.0,630.0C148.3,606.7 155.0,578.3 170.0,560.0C185.0,541.7 215.0,527.5 240.0,520.0C265.0,512.5 295.0,514.2 320.0,515.0C345.0,515.8 376.7,530.8 390.0,525.0C403.3,519.2 406.7,495.8 400.0,480.0C393.3,464.2 358.3,448.3 350.0,430.0C341.7,411.7 341.7,388.3 350.0,370.0C358.3,351.7 385.0,335.0 400.0,320.0C415.0,305.0 431.7,300.0 440.0,280.0C448.3,260.0 444.2,223.3 450.0,200.0C455.8,176.7 465.0,152.5 475.0,140.0C485.0,127.5 498.3,125.0 510.0,125.0Z" fill="#B6D9C1" stroke="#7AAE89" stroke-width="8"/><ellipse cx="340" cy="245" rx="72" ry="84" transform="rotate(35 340 245)" fill="#B6D9C1" stroke="#7AAE89" stroke-width="8"/><ellipse cx="690" cy="212" rx="75" ry="62" transform="rotate(10 690 212)" fill="#B6D9C1" stroke="#7AAE89" stroke-width="8"/><ellipse cx="852" cy="290" rx="37" ry="35" transform="rotate(0 852 290)" fill="#B6D9C1" stroke="#7AAE89" stroke-width="8"/><ellipse cx="262" cy="434" rx="56" ry="56" transform="rotate(0 262 434)" fill="#B6D9C1" stroke="#7AAE89" stroke-width="8"/><ellipse cx="815" cy="600" rx="65" ry="85" transform="rotate(20 815 600)" fill="#B6D9C1" stroke="#7AAE89" stroke-width="8"/><ellipse cx="390" cy="762" rx="80" ry="58" transform="rotate(15 390 762)" fill="#B6D9C1" stroke="#7AAE89" stroke-width="8"/><ellipse cx="664" cy="772" rx="50" ry="43" transform="rotate(0 664 772)" fill="#B6D9C1" stroke="#7AAE89" stroke-width="8"/><ellipse cx="500" cy="370" rx="57" ry="42" transform="rotate(-20 500 370)" fill="#8FC3A3" stroke="#7AAE89" stroke-width="5"/><path d="M590.0,435.0C608.3,440.0 640.0,462.5 650.0,480.0C660.0,497.5 658.3,521.7 650.0,540.0C641.7,558.3 621.7,580.0 600.0,590.0C578.3,600.0 543.3,598.3 520.0,600.0C496.7,601.7 472.5,606.7 460.0,600.0C447.5,593.3 441.7,576.7 445.0,560.0C448.3,543.3 464.2,518.3 480.0,500.0C495.8,481.7 521.7,460.8 540.0,450.0C558.3,439.2 571.7,430.0 590.0,435.0Z" fill="#8FC3A3" stroke="#7AAE89" stroke-width="5"/><ellipse cx="253" cy="618" rx="50" ry="45" transform="rotate(-20 253 618)" fill="#8FC3A3" stroke="#7AAE89" stroke-width="5"/></g><defs><clipPath id="mitoclip"><path d="M1522.5,781.9C1545.2,783.1 1577.7,784.9 1599.9,796.9C1622.0,808.8 1640.2,830.6 1655.4,853.8C1670.6,877.0 1679.4,907.6 1691.2,936.0C1702.9,964.4 1706.4,997.8 1725.8,1024.4C1745.2,1051.0 1774.1,1073.8 1807.6,1095.5C1841.1,1117.3 1893.8,1133.6 1926.7,1154.9C1959.6,1176.3 1989.2,1201.4 2005.2,1223.5C2021.3,1245.7 2024.8,1262.3 2023.1,1287.9C2021.3,1313.5 2009.9,1353.3 1994.6,1377.4C1979.3,1401.5 1958.9,1419.0 1931.2,1432.4C1903.5,1445.9 1865.0,1456.8 1828.3,1458.0C1791.7,1459.2 1749.2,1450.3 1711.3,1439.6C1673.5,1428.8 1638.0,1415.1 1601.2,1393.7C1564.3,1372.3 1521.2,1343.4 1490.4,1311.0C1459.7,1278.7 1438.4,1238.4 1416.6,1199.5C1394.9,1160.6 1372.6,1117.6 1360.1,1077.6C1347.7,1037.7 1342.4,993.3 1342.0,960.0C1341.6,926.7 1347.1,900.9 1358.0,877.9C1368.9,854.9 1389.5,836.8 1407.1,822.1C1424.7,807.4 1444.5,796.4 1463.7,789.7C1482.9,783.0 1499.8,780.7 1522.5,781.9Z"/></clipPath></defs><g transform="translate(1300,890) scale(0.16798)"><path d="M1525.0,740.0C1553.3,741.7 1592.5,745.0 1620.0,760.0C1647.5,775.0 1671.7,803.3 1690.0,830.0C1708.3,856.7 1718.3,891.7 1730.0,920.0C1741.7,948.3 1743.3,976.7 1760.0,1000.0C1776.7,1023.3 1798.3,1040.0 1830.0,1060.0C1861.7,1080.0 1915.0,1096.7 1950.0,1120.0C1985.0,1143.3 2020.8,1171.7 2040.0,1200.0C2059.2,1228.3 2066.7,1256.7 2065.0,1290.0C2063.3,1323.3 2049.2,1370.0 2030.0,1400.0C2010.8,1430.0 1983.3,1453.3 1950.0,1470.0C1916.7,1486.7 1871.7,1498.3 1830.0,1500.0C1788.3,1501.7 1741.7,1491.7 1700.0,1480.0C1658.3,1468.3 1620.0,1453.3 1580.0,1430.0C1540.0,1406.7 1493.3,1375.0 1460.0,1340.0C1426.7,1305.0 1403.3,1261.7 1380.0,1220.0C1356.7,1178.3 1333.3,1133.3 1320.0,1090.0C1306.7,1046.7 1300.0,998.3 1300.0,960.0C1300.0,921.7 1306.7,888.3 1320.0,860.0C1333.3,831.7 1358.3,808.3 1380.0,790.0C1401.7,771.7 1425.8,758.3 1450.0,750.0C1474.2,741.7 1496.7,738.3 1525.0,740.0Z" fill="#E0B7B0" stroke="#8A6663" stroke-width="7"/><path d="M1522.5,781.9C1545.2,783.1 1577.7,784.9 1599.9,796.9C1622.0,808.8 1640.2,830.6 1655.4,853.8C1670.6,877.0 1679.4,907.6 1691.2,936.0C1702.9,964.4 1706.4,997.8 1725.8,1024.4C1745.2,1051.0 1774.1,1073.8 1807.6,1095.5C1841.1,1117.3 1893.8,1133.6 1926.7,1154.9C1959.6,1176.3 1989.2,1201.4 2005.2,1223.5C2021.3,1245.7 2024.8,1262.3 2023.1,1287.9C2021.3,1313.5 2009.9,1353.3 1994.6,1377.4C1979.3,1401.5 1958.9,1419.0 1931.2,1432.4C1903.5,1445.9 1865.0,1456.8 1828.3,1458.0C1791.7,1459.2 1749.2,1450.3 1711.3,1439.6C1673.5,1428.8 1638.0,1415.1 1601.2,1393.7C1564.3,1372.3 1521.2,1343.4 1490.4,1311.0C1459.7,1278.7 1438.4,1238.4 1416.6,1199.5C1394.9,1160.6 1372.6,1117.6 1360.1,1077.6C1347.7,1037.7 1342.4,993.3 1342.0,960.0C1341.6,926.7 1347.1,900.9 1358.0,877.9C1368.9,854.9 1389.5,836.8 1407.1,822.1C1424.7,807.4 1444.5,796.4 1463.7,789.7C1482.9,783.0 1499.8,780.7 1522.5,781.9Z" fill="#F2E3E0" stroke="#927370" stroke-width="4"/><g clip-path="url(#mitoclip)"><line x1="1308.1" y1="923.5" x2="1419.2" y2="918.8" stroke="#927370" stroke-width="52" stroke-linecap="round"/><line x1="1308.1" y1="923.5" x2="1419.2" y2="918.8" stroke="#E0B7B0" stroke-width="46" stroke-linecap="round"/><line x1="1489.3" y1="740.4" x2="1463.6" y2="868.5" stroke="#927370" stroke-width="52" stroke-linecap="round"/><line x1="1489.3" y1="740.4" x2="1463.6" y2="868.5" stroke="#E0B7B0" stroke-width="46" stroke-linecap="round"/><line x1="1620.6" y1="769.1" x2="1540.6" y2="901.1" stroke="#927370" stroke-width="52" stroke-linecap="round"/><line x1="1620.6" y1="769.1" x2="1540.6" y2="901.1" stroke="#E0B7B0" stroke-width="46" stroke-linecap="round"/><line x1="1315.8" y1="1022.7" x2="1505.1" y2="963.3" stroke="#927370" stroke-width="52" stroke-linecap="round"/><line x1="1315.8" y1="1022.7" x2="1505.1" y2="963.3" stroke="#E0B7B0" stroke-width="46" stroke-linecap="round"/><line x1="1683.9" y1="848.9" x2="1549.5" y2="1019.6" stroke="#927370" stroke-width="52" stroke-linecap="round"/><line x1="1683.9" y1="848.9" x2="1549.5" y2="1019.6" stroke="#E0B7B0" stroke-width="46" stroke-linecap="round"/><line x1="1331.6" y1="1138.0" x2="1481.4" y2="1078.9" stroke="#927370" stroke-width="52" stroke-linecap="round"/><line x1="1331.6" y1="1138.0" x2="1481.4" y2="1078.9" stroke="#E0B7B0" stroke-width="46" stroke-linecap="round"/><line x1="1705.5" y1="930.0" x2="1638.4" y2="1075.9" stroke="#927370" stroke-width="52" stroke-linecap="round"/><line x1="1705.5" y1="930.0" x2="1638.4" y2="1075.9" stroke="#E0B7B0" stroke-width="46" stroke-linecap="round"/><line x1="1365.6" y1="1198.7" x2="1561.4" y2="1147.0" stroke="#927370" stroke-width="52" stroke-linecap="round"/><line x1="1365.6" y1="1198.7" x2="1561.4" y2="1147.0" stroke="#E0B7B0" stroke-width="46" stroke-linecap="round"/><line x1="1927.0" y1="1090.5" x2="1790.0" y2="1255.0" stroke="#927370" stroke-width="52" stroke-linecap="round"/><line x1="1927.0" y1="1090.5" x2="1790.0" y2="1255.0" stroke="#E0B7B0" stroke-width="46" stroke-linecap="round"/><line x1="1994.7" y1="1132.6" x2="1881.0" y2="1186.4" stroke="#927370" stroke-width="52" stroke-linecap="round"/><line x1="1994.7" y1="1132.6" x2="1881.0" y2="1186.4" stroke="#E0B7B0" stroke-width="46" stroke-linecap="round"/><line x1="2050.6" y1="1183.5" x2="1881.0" y2="1276.1" stroke="#927370" stroke-width="52" stroke-linecap="round"/><line x1="2050.6" y1="1183.5" x2="1881.0" y2="1276.1" stroke="#E0B7B0" stroke-width="46" stroke-linecap="round"/><line x1="2062.4" y1="1274.0" x2="1946.2" y2="1304.6" stroke="#927370" stroke-width="52" stroke-linecap="round"/><line x1="2062.4" y1="1274.0" x2="1946.2" y2="1304.6" stroke="#E0B7B0" stroke-width="46" stroke-linecap="round"/><line x1="1573.8" y1="1458.6" x2="1677.3" y2="1251.6" stroke="#927370" stroke-width="52" stroke-linecap="round"/><line x1="1573.8" y1="1458.6" x2="1677.3" y2="1251.6" stroke="#E0B7B0" stroke-width="46" stroke-linecap="round"/><line x1="1712.9" y1="1494.3" x2="1780.0" y2="1210.0" stroke="#927370" stroke-width="52" stroke-linecap="round"/><line x1="1712.9" y1="1494.3" x2="1780.0" y2="1210.0" stroke="#E0B7B0" stroke-width="46" stroke-linecap="round"/><line x1="1897.3" y1="1475.0" x2="1897.3" y2="1329.0" stroke="#927370" stroke-width="52" stroke-linecap="round"/><line x1="1897.3" y1="1475.0" x2="1897.3" y2="1329.0" stroke="#E0B7B0" stroke-width="46" stroke-linecap="round"/></g></g><g stroke="#C0464C" stroke-width="7.2" stroke-linecap="round" opacity="0.9"><line x1="1545.8" y1="1055.7" x2="1605.6" y2="1116.5"/><line x1="1605.6" y1="1055.7" x2="1545.8" y2="1116.5"/></g><path d="M1392.4,1063.9 L1415.9,1068.9 L1400.8,1085.7 Z" fill="#555555"/><polygon points="1406.3,1079.5 1409.1,1082.1 1412.0,1084.6 1415.0,1087.1 1418.0,1089.5 1421.1,1091.9 1424.2,1094.3 1427.3,1096.6 1430.4,1098.9 1433.6,1101.2 1436.9,1103.4 1440.1,1105.6 1443.4,1107.7 1446.7,1109.7 1450.1,1111.7 1453.5,1113.7 1456.8,1115.6 1460.3,1117.4 1463.7,1119.1 1467.2,1120.8 1470.6,1122.5 1474.1,1124.0 1477.6,1125.5 1481.1,1126.9 1484.6,1128.3 1488.2,1129.5 1491.7,1130.7 1495.3,1131.8 1498.8,1132.8 1502.3,1133.7 1505.9,1134.6 1509.4,1135.3 1513.0,1136.0 1516.5,1136.5 1520.0,1137.0 1523.6,1137.4 1527.1,1137.6 1530.6,1137.8 1534.1,1137.8 1537.5,1137.8 1541.0,1137.6 1541.0,1137.4 1537.5,1137.5 1534.1,1137.5 1530.6,1137.3 1527.1,1137.1 1523.6,1136.7 1520.1,1136.3 1516.6,1135.7 1513.1,1135.1 1509.6,1134.3 1506.2,1133.5 1502.7,1132.5 1499.2,1131.5 1495.7,1130.4 1492.2,1129.2 1488.8,1127.9 1485.3,1126.5 1481.9,1125.0 1478.5,1123.5 1475.1,1121.9 1471.7,1120.2 1468.4,1118.5 1465.0,1116.7 1461.7,1114.8 1458.4,1112.8 1455.1,1110.8 1451.9,1108.8 1448.7,1106.7 1445.5,1104.5 1442.4,1102.3 1439.3,1100.0 1436.2,1097.7 1433.2,1095.3 1430.2,1092.9 1427.2,1090.5 1424.3,1088.0 1421.4,1085.5 1418.6,1082.9 1415.8,1080.3 1413.1,1077.7 1410.4,1075.1" fill="#555555"/><path d="M1676.1,1158.4 L1697,1145.7 L1697,1169.7 Z" fill="#555555"/><polygon points="1696.2,1161.5 1701.0,1161.1 1705.8,1160.7 1710.5,1160.2 1715.2,1159.6 1719.9,1159.0 1724.5,1158.4 1729.0,1157.7 1733.5,1157.0 1738.0,1156.2 1742.4,1155.4 1746.7,1154.6 1751.0,1153.7 1755.2,1152.8 1759.3,1151.8 1763.4,1150.8 1767.4,1149.8 1771.3,1148.7 1775.2,1147.5 1779.0,1146.3 1782.7,1145.1 1786.3,1143.8 1789.8,1142.5 1793.3,1141.2 1796.7,1139.8 1799.9,1138.3 1803.1,1136.8 1806.2,1135.3 1809.2,1133.7 1812.1,1132.1 1814.9,1130.5 1817.5,1128.8 1820.1,1127.0 1822.6,1125.2 1824.9,1123.4 1827.2,1121.5 1829.3,1119.6 1831.3,1117.7 1833.2,1115.7 1835.0,1113.7 1836.6,1111.6 1836.4,1111.4 1834.7,1113.4 1832.9,1115.4 1830.9,1117.3 1828.8,1119.1 1826.7,1120.9 1824.4,1122.7 1822.0,1124.4 1819.4,1126.0 1816.8,1127.6 1814.1,1129.1 1811.3,1130.6 1808.3,1132.1 1805.3,1133.5 1802.2,1134.8 1799.0,1136.1 1795.7,1137.4 1792.3,1138.6 1788.9,1139.8 1785.3,1140.9 1781.7,1141.9 1778.0,1143.0 1774.2,1143.9 1770.4,1144.9 1766.4,1145.8 1762.4,1146.6 1758.4,1147.4 1754.2,1148.1 1750.1,1148.9 1745.8,1149.5 1741.5,1150.1 1737.1,1150.7 1732.7,1151.2 1728.3,1151.7 1723.7,1152.1 1719.2,1152.5 1714.6,1152.9 1709.9,1153.2 1705.3,1153.5 1700.5,1153.7 1695.8,1153.9" fill="#555555"/><ellipse cx="1846.4" cy="1002.1" rx="85.5" ry="86.6" fill="#B9DCC5" stroke="#78A987" stroke-width="3"/><circle cx="1835.5" cy="999.7" r="52.5" fill="#8FC2A2" stroke="#6FA686" stroke-width="2"/><path d="M1866.00,946.09 Q1874.04,946.68 1877.60,953.91" fill="none" stroke="#C9948F" stroke-width="10.6" stroke-linecap="round"/><path d="M1866.00,946.09 Q1874.04,946.68 1877.60,953.91" fill="none" stroke="#E7BBB6" stroke-width="9" stroke-linecap="round"/><path d="M1866.00,946.09 Q1874.04,946.68 1877.60,953.91" fill="none" stroke="#F7E6E3" stroke-width="5" stroke-dasharray="0.9 1.5"/><path d="M1896.94,949.00 Q1904.87,950.44 1907.66,958.00" fill="none" stroke="#C9948F" stroke-width="10.6" stroke-linecap="round"/><path d="M1896.94,949.00 Q1904.87,950.44 1907.66,958.00" fill="none" stroke="#E7BBB6" stroke-width="9" stroke-linecap="round"/><path d="M1896.94,949.00 Q1904.87,950.44 1907.66,958.00" fill="none" stroke="#F7E6E3" stroke-width="5" stroke-dasharray="0.9 1.5"/><path d="M1888.02,964.90 Q1895.67,967.42 1897.38,975.30" fill="none" stroke="#C9948F" stroke-width="10.6" stroke-linecap="round"/><path d="M1888.02,964.90 Q1895.67,967.42 1897.38,975.30" fill="none" stroke="#E7BBB6" stroke-width="9" stroke-linecap="round"/><path d="M1888.02,964.90 Q1895.67,967.42 1897.38,975.30" fill="none" stroke="#F7E6E3" stroke-width="5" stroke-dasharray="0.9 1.5"/><path d="M1913.18,971.41 Q1919.51,976.40 1918.42,984.39" fill="none" stroke="#C9948F" stroke-width="10.6" stroke-linecap="round"/><path d="M1913.18,971.41 Q1919.51,976.40 1918.42,984.39" fill="none" stroke="#E7BBB6" stroke-width="9" stroke-linecap="round"/><path d="M1913.18,971.41 Q1919.51,976.40 1918.42,984.39" fill="none" stroke="#F7E6E3" stroke-width="5" stroke-dasharray="0.9 1.5"/><path d="M1897.15,992.11 Q1903.03,997.63 1901.25,1005.49" fill="none" stroke="#C9948F" stroke-width="10.6" stroke-linecap="round"/><path d="M1897.15,992.11 Q1903.03,997.63 1901.25,1005.49" fill="none" stroke="#E7BBB6" stroke-width="9" stroke-linecap="round"/><path d="M1897.15,992.11 Q1903.03,997.63 1901.25,1005.49" fill="none" stroke="#F7E6E3" stroke-width="5" stroke-dasharray="0.9 1.5"/><path d="M1916.28,998.91 Q1921.44,1005.11 1918.72,1012.69" fill="none" stroke="#C9948F" stroke-width="10.6" stroke-linecap="round"/><path d="M1916.28,998.91 Q1921.44,1005.11 1918.72,1012.69" fill="none" stroke="#E7BBB6" stroke-width="9" stroke-linecap="round"/><path d="M1916.28,998.91 Q1921.44,1005.11 1918.72,1012.69" fill="none" stroke="#F7E6E3" stroke-width="5" stroke-dasharray="0.9 1.5"/><path d="M1902.01,1018.16 Q1901.69,1026.22 1894.59,1030.04" fill="none" stroke="#C9948F" stroke-width="10.6" stroke-linecap="round"/><path d="M1902.01,1018.16 Q1901.69,1026.22 1894.59,1030.04" fill="none" stroke="#E7BBB6" stroke-width="9" stroke-linecap="round"/><path d="M1902.01,1018.16 Q1901.69,1026.22 1894.59,1030.04" fill="none" stroke="#F7E6E3" stroke-width="5" stroke-dasharray="0.9 1.5"/><path d="M1914.39,1028.38 Q1914.50,1036.44 1907.61,1040.62" fill="none" stroke="#C9948F" stroke-width="10.6" stroke-linecap="round"/><path d="M1914.39,1028.38 Q1914.50,1036.44 1907.61,1040.62" fill="none" stroke="#E7BBB6" stroke-width="9" stroke-linecap="round"/><path d="M1914.39,1028.38 Q1914.50,1036.44 1907.61,1040.62" fill="none" stroke="#F7E6E3" stroke-width="5" stroke-dasharray="0.9 1.5"/><path d="M1883.49,1038.99 Q1880.31,1046.39 1872.31,1047.41" fill="none" stroke="#C9948F" stroke-width="10.6" stroke-linecap="round"/><path d="M1883.49,1038.99 Q1880.31,1046.39 1872.31,1047.41" fill="none" stroke="#E7BBB6" stroke-width="9" stroke-linecap="round"/><path d="M1883.49,1038.99 Q1880.31,1046.39 1872.31,1047.41" fill="none" stroke="#F7E6E3" stroke-width="5" stroke-dasharray="0.9 1.5"/><path d="M1894.72,1050.63 Q1892.33,1058.33 1884.48,1060.17" fill="none" stroke="#C9948F" stroke-width="10.6" stroke-linecap="round"/><path d="M1894.72,1050.63 Q1892.33,1058.33 1884.48,1060.17" fill="none" stroke="#E7BBB6" stroke-width="9" stroke-linecap="round"/><path d="M1894.72,1050.63 Q1892.33,1058.33 1884.48,1060.17" fill="none" stroke="#F7E6E3" stroke-width="5" stroke-dasharray="0.9 1.5"/><text x="1760" y="1017.2" font-size="41.2" font-family="Liberation Serif" fill="#141414" textLength="128" lengthAdjust="spacingAndGlyphs">T CD4+</text><g fill="#F5D7A9"><circle cx="1680.3" cy="979.7" r="3.05"/><circle cx="1708.6" cy="987.4" r="2.40"/><circle cx="1679.2" cy="1003.3" r="2.83"/><circle cx="1692.3" cy="1003.3" r="2.40"/><circle cx="1701.7" cy="999.3" r="3.49"/><circle cx="1733.2" cy="1009.6" r="3.27"/><circle cx="1716.9" cy="1013.9" r="2.40"/><circle cx="1725.4" cy="1015.7" r="2.18"/><circle cx="1685.8" cy="1022.2" r="3.05"/><circle cx="1697.7" cy="1027.2" r="3.05"/><circle cx="1711.9" cy="1032.7" r="2.40"/><circle cx="1696.6" cy="1073.0" r="2.40"/><circle cx="1737.4" cy="1071.2" r="2.40"/><circle cx="1746.3" cy="1067.5" r="3.05"/><circle cx="1722.4" cy="1081.7" r="3.27"/><circle cx="1732.6" cy="1083.2" r="2.18"/><circle cx="1742.8" cy="1087.1" r="4.14"/><circle cx="1699.9" cy="1088.2" r="3.05"/><circle cx="1727.1" cy="1100.2" r="3.05"/><circle cx="1703.2" cy="1106.8" r="3.27"/><circle cx="1722.4" cy="1113.3" r="2.40"/><circle cx="1741.3" cy="1118.7" r="2.40"/><circle cx="1707.5" cy="1134.0" r="3.05"/><circle cx="1942.4" cy="1040.7" r="2.40"/><circle cx="1966.1" cy="1041.8" r="2.83"/><circle cx="1936.3" cy="1048.4" r="2.40"/><circle cx="1918.9" cy="1056.6" r="2.40"/><circle cx="1938.5" cy="1057.7" r="2.18"/><circle cx="1948.9" cy="1059.9" r="2.83"/><circle cx="1959.8" cy="1059.3" r="2.40"/><circle cx="1904.7" cy="1057.7" r="1.74"/><circle cx="1921.7" cy="1065.4" r="1.96"/><circle cx="1931.9" cy="1069.1" r="2.61"/><circle cx="1942.4" cy="1068.6" r="2.61"/><circle cx="1958.1" cy="1070.2" r="2.40"/><circle cx="1923.9" cy="1070.8" r="1.74"/><circle cx="1916.7" cy="1074.9" r="1.96"/><circle cx="1942.4" cy="1083.9" r="3.05"/><circle cx="1931.9" cy="1091.5" r="3.05"/><circle cx="1950.0" cy="1096.7" r="3.05"/><circle cx="1966.1" cy="1094.8" r="3.05"/><circle cx="1934.6" cy="1102.8" r="2.18"/><circle cx="1969.0" cy="1106.8" r="2.61"/><circle cx="1888.4" cy="899.1" r="2.40"/><circle cx="1899.3" cy="910.0" r="3.05"/><circle cx="1903.6" cy="929.0" r="3.05"/><circle cx="1916.7" cy="929.6" r="2.40"/><circle cx="1881.4" cy="932.2" r="3.05"/><circle cx="1899.3" cy="937.9" r="2.40"/><circle cx="1911.2" cy="942.7" r="3.05"/><circle cx="1926.5" cy="942.7" r="3.05"/><circle cx="1892.7" cy="951.9" r="3.05"/><circle cx="1884.7" cy="956.9" r="2.40"/></g><ellipse cx="2103.6" cy="1082.4" rx="84.6" ry="82.1" fill="#9FCDEB" stroke="#3B7BAB" stroke-width="2.8"/><circle cx="2112.2" cy="1074.1" r="50.5" fill="#86B4D1" stroke="#6C9BB9" stroke-width="1.5"/><g stroke="#E4637F" stroke-width="16" stroke-linecap="round" opacity="1"><line x1="2061.2" y1="1032.6" x2="2146.1" y2="1116.7"/><line x1="2146.1" y1="1032.6" x2="2061.2" y2="1116.7"/></g><text x="2092" y="1209" font-size="49.5" font-family="Liberation Serif" fill="#141414" stroke="#141414" stroke-width="0.6" textLength="95" lengthAdjust="spacingAndGlyphs">Treg</text><g transform="translate(2240,920) scale(0.13065)"><path d="M235.0,570.0C237.5,562.5 239.2,548.3 250.0,545.0C260.8,541.7 275.0,545.8 300.0,550.0C325.0,554.2 375.0,571.7 400.0,570.0C425.0,568.3 438.3,555.0 450.0,540.0C461.7,525.0 468.3,500.0 470.0,480.0C471.7,460.0 465.0,436.7 460.0,420.0C455.0,403.3 443.3,390.8 440.0,380.0C436.7,369.2 435.0,360.8 440.0,355.0C445.0,349.2 455.0,344.2 470.0,345.0C485.0,345.8 510.0,355.8 530.0,360.0C550.0,364.2 570.0,373.3 590.0,370.0C610.0,366.7 623.3,350.8 650.0,340.0C676.7,329.2 713.3,314.2 750.0,305.0C786.7,295.8 831.7,290.8 870.0,285.0C908.3,279.2 953.3,275.8 980.0,270.0C1006.7,264.2 1013.3,259.2 1030.0,250.0C1046.7,240.8 1065.0,220.8 1080.0,215.0C1095.0,209.2 1111.7,210.0 1120.0,215.0C1128.3,220.0 1133.3,232.5 1130.0,245.0C1126.7,257.5 1108.3,277.5 1100.0,290.0C1091.7,302.5 1080.0,308.3 1080.0,320.0C1080.0,331.7 1088.3,350.0 1100.0,360.0C1111.7,370.0 1133.3,375.8 1150.0,380.0C1166.7,384.2 1181.7,388.3 1200.0,385.0C1218.3,381.7 1241.7,366.7 1260.0,360.0C1278.3,353.3 1293.3,345.8 1310.0,345.0C1326.7,344.2 1350.0,348.3 1360.0,355.0C1370.0,361.7 1375.0,374.2 1370.0,385.0C1365.0,395.8 1340.0,407.5 1330.0,420.0C1320.0,432.5 1310.0,448.3 1310.0,460.0C1310.0,471.7 1317.5,483.3 1330.0,490.0C1342.5,496.7 1373.3,493.3 1385.0,500.0C1396.7,506.7 1396.7,513.3 1400.0,530.0C1403.3,546.7 1401.7,575.0 1405.0,600.0C1408.3,625.0 1414.2,653.3 1420.0,680.0C1425.8,706.7 1433.3,726.7 1440.0,760.0C1446.7,793.3 1450.0,851.7 1460.0,880.0C1470.0,908.3 1483.3,919.2 1500.0,930.0C1516.7,940.8 1546.7,937.5 1560.0,945.0C1573.3,952.5 1578.3,965.8 1580.0,975.0C1581.7,984.2 1576.7,995.0 1570.0,1000.0C1563.3,1005.0 1556.7,1005.0 1540.0,1005.0C1523.3,1005.0 1493.3,999.2 1470.0,1000.0C1446.7,1000.8 1416.7,1000.0 1400.0,1010.0C1383.3,1020.0 1373.3,1041.7 1370.0,1060.0C1366.7,1078.3 1371.7,1101.7 1380.0,1120.0C1388.3,1138.3 1403.3,1152.5 1420.0,1170.0C1436.7,1187.5 1466.7,1210.0 1480.0,1225.0C1493.3,1240.0 1498.3,1250.0 1500.0,1260.0C1501.7,1270.0 1496.7,1280.8 1490.0,1285.0C1483.3,1289.2 1475.0,1289.2 1460.0,1285.0C1445.0,1280.8 1421.7,1270.0 1400.0,1260.0C1378.3,1250.0 1353.3,1235.0 1330.0,1225.0C1306.7,1215.0 1281.7,1199.2 1260.0,1200.0C1238.3,1200.8 1220.0,1218.3 1200.0,1230.0C1180.0,1241.7 1155.0,1255.0 1140.0,1270.0C1125.0,1285.0 1115.0,1301.7 1110.0,1320.0C1105.0,1338.3 1108.3,1360.0 1110.0,1380.0C1111.7,1400.0 1120.0,1423.3 1120.0,1440.0C1120.0,1456.7 1116.7,1470.8 1110.0,1480.0C1103.3,1489.2 1090.0,1495.0 1080.0,1495.0C1070.0,1495.0 1058.3,1489.2 1050.0,1480.0C1041.7,1470.8 1036.7,1453.3 1030.0,1440.0C1023.3,1426.7 1021.7,1410.0 1010.0,1400.0C998.3,1390.0 978.3,1385.0 960.0,1380.0C941.7,1375.0 921.7,1375.0 900.0,1370.0C878.3,1365.0 853.3,1354.2 830.0,1350.0C806.7,1345.8 775.0,1338.3 760.0,1345.0C745.0,1351.7 746.7,1379.2 740.0,1390.0C733.3,1400.8 726.7,1408.3 720.0,1410.0C713.3,1411.7 705.0,1408.3 700.0,1400.0C695.0,1391.7 695.0,1373.3 690.0,1360.0C685.0,1346.7 681.7,1330.0 670.0,1320.0C658.3,1310.0 638.3,1301.7 620.0,1300.0C601.7,1298.3 578.3,1303.3 560.0,1310.0C541.7,1316.7 523.3,1326.7 510.0,1340.0C496.7,1353.3 489.2,1380.0 480.0,1390.0C470.8,1400.0 461.7,1401.7 455.0,1400.0C448.3,1398.3 439.2,1393.3 440.0,1380.0C440.8,1366.7 450.0,1341.7 460.0,1320.0C470.0,1298.3 491.7,1270.0 500.0,1250.0C508.3,1230.0 511.7,1216.7 510.0,1200.0C508.3,1183.3 503.3,1165.0 490.0,1150.0C476.7,1135.0 448.3,1116.7 430.0,1110.0C411.7,1103.3 393.3,1105.0 380.0,1110.0C366.7,1115.0 360.0,1133.3 350.0,1140.0C340.0,1146.7 325.8,1155.0 320.0,1150.0C314.2,1145.0 311.7,1125.0 315.0,1110.0C318.3,1095.0 329.2,1078.3 340.0,1060.0C350.8,1041.7 373.3,1016.7 380.0,1000.0C386.7,983.3 386.7,970.0 380.0,960.0C373.3,950.0 350.0,946.7 340.0,940.0C330.0,933.3 321.7,931.7 320.0,920.0C318.3,908.3 323.3,890.0 330.0,870.0C336.7,850.0 353.3,828.3 360.0,800.0C366.7,771.7 368.3,723.3 370.0,700.0C371.7,676.7 375.0,670.0 370.0,660.0C365.0,650.0 355.0,647.5 340.0,640.0C325.0,632.5 297.5,623.3 280.0,615.0C262.5,606.7 242.5,597.5 235.0,590.0C227.5,582.5 232.5,577.5 235.0,570.0Z" fill="#D4D3EF" stroke="#9390C9" stroke-width="12"/><path d="M1050.0,620.0C1088.3,620.8 1143.3,620.0 1180.0,640.0C1216.7,660.0 1250.0,700.0 1270.0,740.0C1290.0,780.0 1298.3,828.3 1300.0,880.0C1301.7,931.7 1296.7,1000.0 1280.0,1050.0C1263.3,1100.0 1238.3,1148.3 1200.0,1180.0C1161.7,1211.7 1100.0,1231.7 1050.0,1240.0C1000.0,1248.3 946.7,1243.3 900.0,1230.0C853.3,1216.7 800.0,1188.3 770.0,1160.0C740.0,1131.7 725.0,1091.7 720.0,1060.0C715.0,1028.3 723.3,996.7 740.0,970.0C756.7,943.3 801.7,928.3 820.0,900.0C838.3,871.7 840.0,833.3 850.0,800.0C860.0,766.7 863.3,727.5 880.0,700.0C896.7,672.5 921.7,648.3 950.0,635.0C978.3,621.7 1011.7,619.2 1050.0,620.0Z" fill="#AFAED9" stroke="#9B9BCB" stroke-width="6"/></g><text x="2305" y="1012.1" font-size="46.9" font-family="Liberation Serif" fill="#141414" textLength="88" lengthAdjust="spacingAndGlyphs">APC</text><rect x="2437.40" y="994.70" width="14.4" height="14.4" fill="#B0181A" transform="rotate(-8 2444.60 1001.90)"/><rect x="2471.00" y="989.70" width="14.8" height="14.8" fill="#B0181A" transform="rotate(40 2478.40 997.10)"/><rect x="2474.80" y="1019.90" width="17" height="17" fill="#B0181A" transform="rotate(25 2483.30 1028.40)"/><line x1="1309.2" y1="1153.8" x2="1309.2" y2="1236.3" stroke="#444444" stroke-width="3.2"/><polygon points="1293.95,1235.3 1324.45,1235.3 1309.2,1265" fill="#444444"/><text x="1348.5" y="1252.1" font-size="50" font-family="Liberation Serif" fill="#141414" stroke="#141414" stroke-width="0.6" textLength="215" lengthAdjust="spacingAndGlyphs">mTFA and</text><text x="1586.5" y="1252.1" font-size="50" font-family="Liberation Serif" fill="#141414" stroke="#141414" stroke-width="0.6" textLength="164" lengthAdjust="spacingAndGlyphs">PGC-1α</text><line x1="1322" y1="1285.4" x2="1875.5" y2="1285.4" stroke="#666666" stroke-width="2.9" stroke-dasharray="9.2 9.6"/><text x="1312" y="1348.7" font-size="49" font-family="Liberation Serif" fill="#141414" stroke="#141414" stroke-width="0.6" textLength="460" lengthAdjust="spacingAndGlyphs">Mithocondrial damage</text><line x1="2427.5" y1="1282.3" x2="2427.5" y2="1219.2" stroke="#2A2A2A" stroke-width="3.5"/><polygon points="2412.0,1220.2 2443.0,1220.2 2427.5,1190.4" fill="#2A2A2A"/><text x="2470" y="1256.2" font-size="47.8" font-family="Liberation Serif" fill="#141414" stroke="#141414" stroke-width="0.6" textLength="318" lengthAdjust="spacingAndGlyphs">IL-1, IL-6, IL-18</text><line x1="2280.9" y1="1288.5" x2="2834.6" y2="1288.5" stroke="#666666" stroke-width="2.7" stroke-dasharray="9.3 9.5"/><text x="2480" y="1373.2" font-size="48.9" font-family="Liberation Serif" fill="#141414" stroke="#141414" stroke-width="0.6" textLength="236" lengthAdjust="spacingAndGlyphs">Inflamation</text><line x1="2238.8" y1="1356.6" x2="2179" y2="1283" stroke="#2A2A2A" stroke-width="3.5"/><polygon points="2162,1262.5 2169.8,1295.4 2192.7,1276.6" fill="#2A2A2A"/><line x1="1772.4" y1="1605.5" x2="1772.4" y2="1526.5" stroke="#333333" stroke-width="4"/><polygon points="1756.95,1527.5 1787.8500000000001,1527.5 1772.4,1497.1" fill="#333333"/><line x1="2145.6" y1="1612.8" x2="2145.6" y2="1533.7" stroke="#333333" stroke-width="4"/><polygon points="2130.0,1534.7 2161.2,1534.7 2145.6,1504" fill="#333333"/><g><line x1="1844.56" y1="1512.43" x2="1857.94" y2="1532.17" stroke="#D66E6E" stroke-width="16.0" stroke-linecap="round"/><line x1="1848.28" y1="1512.79" x2="1858.99" y2="1528.58" stroke="#E59A95" stroke-width="1.28" stroke-linecap="round" opacity="0.8"/><line x1="1830.78" y1="1547.74" x2="1848.12" y2="1566.56" stroke="#D66E6E" stroke-width="16.0" stroke-linecap="round"/><line x1="1834.63" y1="1547.67" x2="1848.51" y2="1562.73" stroke="#E59A95" stroke-width="1.28" stroke-linecap="round" opacity="0.8"/><line x1="1881.40" y1="1490.25" x2="1889.20" y2="1514.75" stroke="#D66E6E" stroke-width="16.0" stroke-linecap="round"/><line x1="1884.93" y1="1491.83" x2="1891.16" y2="1511.42" stroke="#E59A95" stroke-width="1.28" stroke-linecap="round" opacity="0.8"/><line x1="1916.37" y1="1491.69" x2="1913.03" y2="1517.01" stroke="#D66E6E" stroke-width="16.0" stroke-linecap="round"/><line x1="1918.89" y1="1494.60" x2="1916.22" y2="1514.85" stroke="#E59A95" stroke-width="1.28" stroke-linecap="round" opacity="0.8"/><line x1="1885.31" y1="1534.85" x2="1893.09" y2="1558.85" stroke="#D66E6E" stroke-width="16.0" stroke-linecap="round"/><line x1="1888.83" y1="1536.36" x2="1895.05" y2="1555.56" stroke="#E59A95" stroke-width="1.28" stroke-linecap="round" opacity="0.8"/><line x1="1941.46" y1="1516.69" x2="1938.14" y2="1540.41" stroke="#D66E6E" stroke-width="16.0" stroke-linecap="round"/><line x1="1943.98" y1="1519.46" x2="1941.32" y2="1538.44" stroke="#E59A95" stroke-width="1.28" stroke-linecap="round" opacity="0.8"/><line x1="1969.29" y1="1506.98" x2="1964.11" y2="1530.92" stroke="#D66E6E" stroke-width="16.0" stroke-linecap="round"/><line x1="1971.59" y1="1509.98" x2="1967.44" y2="1529.14" stroke="#E59A95" stroke-width="1.28" stroke-linecap="round" opacity="0.8"/><line x1="1917.23" y1="1554.39" x2="1913.07" y2="1578.91" stroke="#D66E6E" stroke-width="16.0" stroke-linecap="round"/><line x1="1919.66" y1="1557.32" x2="1916.32" y2="1576.94" stroke="#E59A95" stroke-width="1.28" stroke-linecap="round" opacity="0.8"/><line x1="1872.06" y1="1575.55" x2="1889.34" y2="1595.25" stroke="#D66E6E" stroke-width="16.0" stroke-linecap="round"/><line x1="1875.95" y1="1575.62" x2="1889.78" y2="1591.38" stroke="#E59A95" stroke-width="1.28" stroke-linecap="round" opacity="0.8"/><line x1="1944.03" y1="1573.83" x2="1934.97" y2="1596.47" stroke="#D66E6E" stroke-width="16.0" stroke-linecap="round"/><line x1="1945.80" y1="1577.16" x2="1938.55" y2="1595.28" stroke="#E59A95" stroke-width="1.28" stroke-linecap="round" opacity="0.8"/></g><g><circle cx="2253.90" cy="1495.70" r="7.5" fill="url(#dotg)" stroke="#E2AC5A" stroke-width="1.12"/><circle cx="2303.50" cy="1505.70" r="7.5" fill="url(#dotg)" stroke="#E2AC5A" stroke-width="1.12"/><circle cx="2229.10" cy="1512.50" r="7.5" fill="url(#dotg)" stroke="#E2AC5A" stroke-width="1.12"/><circle cx="2205.00" cy="1528.90" r="7.5" fill="url(#dotg)" stroke="#E2AC5A" stroke-width="1.12"/><circle cx="2262.20" cy="1526.60" r="7.5" fill="url(#dotg)" stroke="#E2AC5A" stroke-width="1.12"/><circle cx="2289.90" cy="1525.50" r="7.5" fill="url(#dotg)" stroke="#E2AC5A" stroke-width="1.12"/><circle cx="2237.50" cy="1542.20" r="7.5" fill="url(#dotg)" stroke="#E2AC5A" stroke-width="1.12"/><circle cx="2253.90" cy="1557.20" r="7.5" fill="url(#dotg)" stroke="#E2AC5A" stroke-width="1.12"/><circle cx="2278.60" cy="1552.90" r="7.5" fill="url(#dotg)" stroke="#E2AC5A" stroke-width="1.12"/><circle cx="2320.20" cy="1552.90" r="7.5" fill="url(#dotg)" stroke="#E2AC5A" stroke-width="1.12"/><circle cx="2212.00" cy="1573.60" r="7.5" fill="url(#dotg)" stroke="#E2AC5A" stroke-width="1.12"/><circle cx="2245.40" cy="1584.90" r="7.5" fill="url(#dotg)" stroke="#E2AC5A" stroke-width="1.12"/><circle cx="2270.60" cy="1586.30" r="7.5" fill="url(#dotg)" stroke="#E2AC5A" stroke-width="1.12"/><circle cx="2303.50" cy="1579.30" r="7.5" fill="url(#dotg)" stroke="#E2AC5A" stroke-width="1.12"/></g><text x="1283" y="1758.9" font-size="58.3" font-family="Liberation Serif" fill="#141414" textLength="99" lengthAdjust="spacingAndGlyphs">INR</text><g><path d="M1486.00,1825.70L1486.00,1626.47A5.47,5.47 0 0 1 1496.94,1626.47L1496.94,1668.77A4.23,4.23 0 0 0 1505.39,1668.77L1505.39,1626.72A5.72,5.72 0 0 1 1516.82,1626.72L1516.82,1668.53A4.47,4.47 0 0 0 1525.77,1668.53L1525.77,1626.72A5.72,5.72 0 0 1 1537.20,1626.72L1537.20,1667.53A5.47,5.47 0 0 0 1548.14,1667.53L1548.14,1626.47A5.47,5.47 0 0 1 1559.07,1626.47L1559.07,1668.03A4.97,4.97 0 0 0 1569.01,1668.03L1569.01,1626.72A5.72,5.72 0 0 1 1580.45,1626.72L1580.45,1669.02A3.98,3.98 0 0 0 1588.40,1669.02L1588.40,1626.47A5.47,5.47 0 0 1 1599.33,1626.47L1599.33,1667.53A5.47,5.47 0 0 0 1610.27,1667.53L1610.27,1626.96A5.96,5.96 0 0 1 1622.20,1626.96L1622.20,1825.70A16,16 0 0 1 1606.20,1841.70L1502.00,1841.70A16,16 0 0 1 1486.00,1825.70Z" fill="#FCDBC3" stroke="#DDA084" stroke-width="1.6"/><ellipse cx="1563.10" cy="1792.80" rx="29.3" ry="28.7" fill="#E5AC93"/><path d="M1622.20,1825.70L1622.20,1626.47A5.47,5.47 0 0 1 1633.14,1626.47L1633.14,1668.77A4.23,4.23 0 0 0 1641.59,1668.77L1641.59,1626.72A5.72,5.72 0 0 1 1653.02,1626.72L1653.02,1668.53A4.47,4.47 0 0 0 1661.97,1668.53L1661.97,1626.72A5.72,5.72 0 0 1 1673.40,1626.72L1673.40,1667.53A5.47,5.47 0 0 0 1684.34,1667.53L1684.34,1626.47A5.47,5.47 0 0 1 1695.27,1626.47L1695.27,1668.03A4.97,4.97 0 0 0 1705.21,1668.03L1705.21,1626.72A5.72,5.72 0 0 1 1716.65,1626.72L1716.65,1669.02A3.98,3.98 0 0 0 1724.60,1669.02L1724.60,1626.47A5.47,5.47 0 0 1 1735.53,1626.47L1735.53,1667.53A5.47,5.47 0 0 0 1746.47,1667.53L1746.47,1626.96A5.96,5.96 0 0 1 1758.40,1626.96L1758.40,1825.70A16,16 0 0 1 1742.40,1841.70L1638.20,1841.70A16,16 0 0 1 1622.20,1825.70Z" fill="#FCDBC3" stroke="#DDA084" stroke-width="1.6"/><ellipse cx="1699.30" cy="1792.80" rx="29.3" ry="28.7" fill="#E5AC93"/><path d="M1758.40,1825.70L1758.40,1626.47A5.47,5.47 0 0 1 1769.34,1626.47L1769.34,1668.77A4.23,4.23 0 0 0 1777.79,1668.77L1777.79,1626.72A5.72,5.72 0 0 1 1789.22,1626.72L1789.22,1668.53A4.47,4.47 0 0 0 1798.17,1668.53L1798.17,1626.72A5.72,5.72 0 0 1 1809.60,1626.72L1809.60,1667.53A5.47,5.47 0 0 0 1820.54,1667.53L1820.54,1626.47A5.47,5.47 0 0 1 1831.47,1626.47L1831.47,1668.03A4.97,4.97 0 0 0 1841.41,1668.03L1841.41,1626.72A5.72,5.72 0 0 1 1852.85,1626.72L1852.85,1669.02A3.98,3.98 0 0 0 1860.80,1669.02L1860.80,1626.47A5.47,5.47 0 0 1 1871.73,1626.47L1871.73,1667.53A5.47,5.47 0 0 0 1882.67,1667.53L1882.67,1626.96A5.96,5.96 0 0 1 1894.60,1626.96L1894.60,1825.70A16,16 0 0 1 1878.60,1841.70L1774.40,1841.70A16,16 0 0 1 1758.40,1825.70Z" fill="#FCDBC3" stroke="#DDA084" stroke-width="1.6"/><ellipse cx="1835.50" cy="1792.80" rx="29.3" ry="28.7" fill="#E5AC93"/><path d="M1894.60,1825.70L1894.60,1626.47A5.47,5.47 0 0 1 1905.54,1626.47L1905.54,1668.77A4.23,4.23 0 0 0 1913.99,1668.77L1913.99,1626.72A5.72,5.72 0 0 1 1925.42,1626.72L1925.42,1668.53A4.47,4.47 0 0 0 1934.37,1668.53L1934.37,1626.72A5.72,5.72 0 0 1 1945.80,1626.72L1945.80,1667.53A5.47,5.47 0 0 0 1956.74,1667.53L1956.74,1626.47A5.47,5.47 0 0 1 1967.67,1626.47L1967.67,1668.03A4.97,4.97 0 0 0 1977.61,1668.03L1977.61,1626.72A5.72,5.72 0 0 1 1989.05,1626.72L1989.05,1669.02A3.98,3.98 0 0 0 1997.00,1669.02L1997.00,1626.47A5.47,5.47 0 0 1 2007.93,1626.47L2007.93,1667.53A5.47,5.47 0 0 0 2018.87,1667.53L2018.87,1626.96A5.96,5.96 0 0 1 2030.80,1626.96L2030.80,1825.70A16,16 0 0 1 2014.80,1841.70L1910.60,1841.70A16,16 0 0 1 1894.60,1825.70Z" fill="#FCDBC3" stroke="#DDA084" stroke-width="1.6"/><ellipse cx="1971.70" cy="1792.80" rx="29.3" ry="28.7" fill="#E5AC93"/><path d="M2030.80,1825.70L2030.80,1626.47A5.47,5.47 0 0 1 2041.74,1626.47L2041.74,1668.77A4.23,4.23 0 0 0 2050.19,1668.77L2050.19,1626.72A5.72,5.72 0 0 1 2061.62,1626.72L2061.62,1668.53A4.47,4.47 0 0 0 2070.57,1668.53L2070.57,1626.72A5.72,5.72 0 0 1 2082.00,1626.72L2082.00,1667.53A5.47,5.47 0 0 0 2092.94,1667.53L2092.94,1626.47A5.47,5.47 0 0 1 2103.87,1626.47L2103.87,1668.03A4.97,4.97 0 0 0 2113.81,1668.03L2113.81,1626.72A5.72,5.72 0 0 1 2125.25,1626.72L2125.25,1669.02A3.98,3.98 0 0 0 2133.20,1669.02L2133.20,1626.47A5.47,5.47 0 0 1 2144.13,1626.47L2144.13,1667.53A5.47,5.47 0 0 0 2155.07,1667.53L2155.07,1626.96A5.96,5.96 0 0 1 2167.00,1626.96L2167.00,1825.70A16,16 0 0 1 2151.00,1841.70L2046.80,1841.70A16,16 0 0 1 2030.80,1825.70Z" fill="#FCDBC3" stroke="#DDA084" stroke-width="1.6"/><ellipse cx="2107.90" cy="1792.80" rx="29.3" ry="28.7" fill="#E5AC93"/><path d="M2167.00,1825.70L2167.00,1626.47A5.47,5.47 0 0 1 2177.94,1626.47L2177.94,1668.77A4.23,4.23 0 0 0 2186.39,1668.77L2186.39,1626.72A5.72,5.72 0 0 1 2197.82,1626.72L2197.82,1668.53A4.47,4.47 0 0 0 2206.77,1668.53L2206.77,1626.72A5.72,5.72 0 0 1 2218.20,1626.72L2218.20,1667.53A5.47,5.47 0 0 0 2229.14,1667.53L2229.14,1626.47A5.47,5.47 0 0 1 2240.07,1626.47L2240.07,1668.03A4.97,4.97 0 0 0 2250.01,1668.03L2250.01,1626.72A5.72,5.72 0 0 1 2261.45,1626.72L2261.45,1669.02A3.98,3.98 0 0 0 2269.40,1669.02L2269.40,1626.47A5.47,5.47 0 0 1 2280.33,1626.47L2280.33,1667.53A5.47,5.47 0 0 0 2291.27,1667.53L2291.27,1626.96A5.96,5.96 0 0 1 2303.20,1626.96L2303.20,1825.70A16,16 0 0 1 2287.20,1841.70L2183.00,1841.70A16,16 0 0 1 2167.00,1825.70Z" fill="#FCDBC3" stroke="#DDA084" stroke-width="1.6"/><ellipse cx="2244.10" cy="1792.80" rx="29.3" ry="28.7" fill="#E5AC93"/><path d="M2303.20,1825.70L2303.20,1626.47A5.47,5.47 0 0 1 2314.14,1626.47L2314.14,1668.77A4.23,4.23 0 0 0 2322.59,1668.77L2322.59,1626.72A5.72,5.72 0 0 1 2334.02,1626.72L2334.02,1668.53A4.47,4.47 0 0 0 2342.97,1668.53L2342.97,1626.72A5.72,5.72 0 0 1 2354.40,1626.72L2354.40,1667.53A5.47,5.47 0 0 0 2365.34,1667.53L2365.34,1626.47A5.47,5.47 0 0 1 2376.27,1626.47L2376.27,1668.03A4.97,4.97 0 0 0 2386.21,1668.03L2386.21,1626.72A5.72,5.72 0 0 1 2397.65,1626.72L2397.65,1669.02A3.98,3.98 0 0 0 2405.60,1669.02L2405.60,1626.47A5.47,5.47 0 0 1 2416.53,1626.47L2416.53,1667.53A5.47,5.47 0 0 0 2427.47,1667.53L2427.47,1626.96A5.96,5.96 0 0 1 2439.40,1626.96L2439.40,1825.70A16,16 0 0 1 2423.40,1841.70L2319.20,1841.70A16,16 0 0 1 2303.20,1825.70Z" fill="#FCDBC3" stroke="#DDA084" stroke-width="1.6"/><ellipse cx="2380.30" cy="1792.80" rx="29.3" ry="28.7" fill="#E5AC93"/><path d="M2439.40,1825.70L2439.40,1626.47A5.47,5.47 0 0 1 2450.34,1626.47L2450.34,1668.77A4.23,4.23 0 0 0 2458.79,1668.77L2458.79,1626.72A5.72,5.72 0 0 1 2470.22,1626.72L2470.22,1668.53A4.47,4.47 0 0 0 2479.17,1668.53L2479.17,1626.72A5.72,5.72 0 0 1 2490.60,1626.72L2490.60,1667.53A5.47,5.47 0 0 0 2501.54,1667.53L2501.54,1626.47A5.47,5.47 0 0 1 2512.47,1626.47L2512.47,1668.03A4.97,4.97 0 0 0 2522.41,1668.03L2522.41,1626.72A5.72,5.72 0 0 1 2533.85,1626.72L2533.85,1669.02A3.98,3.98 0 0 0 2541.80,1669.02L2541.80,1626.47A5.47,5.47 0 0 1 2552.73,1626.47L2552.73,1667.53A5.47,5.47 0 0 0 2563.67,1667.53L2563.67,1626.96A5.96,5.96 0 0 1 2575.60,1626.96L2575.60,1825.70A16,16 0 0 1 2559.60,1841.70L2455.40,1841.70A16,16 0 0 1 2439.40,1825.70Z" fill="#FCDBC3" stroke="#DDA084" stroke-width="1.6"/><ellipse cx="2516.50" cy="1792.80" rx="29.3" ry="28.7" fill="#E5AC93"/></g><text x="1701" y="1967.3" font-size="44.3" font-family="Liberation Serif" fill="#141414" stroke="#141414" stroke-width="0.6" textLength="576" lengthAdjust="spacingAndGlyphs">No recover of CD4 T-cell counts</text></svg></body></html>
